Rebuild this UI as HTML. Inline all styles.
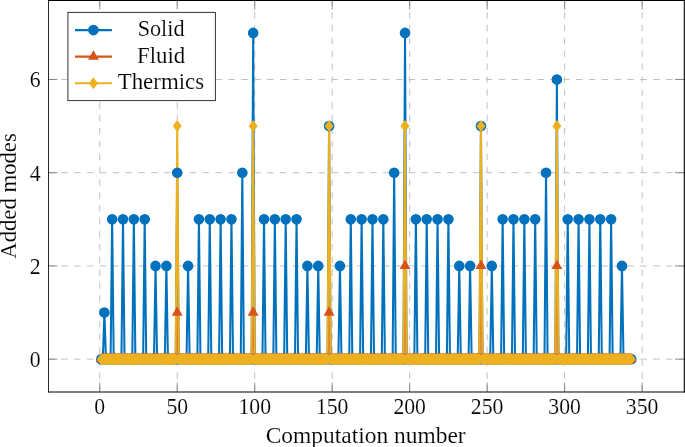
<!DOCTYPE html>
<html><head><meta charset="utf-8"><style>
html,body{margin:0;padding:0;background:#fff;}
body{width:685px;height:447px;overflow:hidden;font-family:"Liberation Serif",serif;}
svg{display:block;will-change:transform;}
</style></head><body>
<svg width="685" height="447" viewBox="0 0 685 447">
<rect width="685" height="447" fill="#fff"/>
<path d="M99.75 391.8V0.25M177.23 391.8V0.25M254.71 391.8V0.25M332.19 391.8V0.25M409.67 391.8V0.25M487.15 391.8V0.25M564.63 391.8V0.25M642.11 391.8V0.25" stroke="#c0c0c0" stroke-width="1.0" stroke-dasharray="6.43 6.44" fill="none"/>
<path d="M48.3 359.15H684.2M48.3 265.93H684.2M48.3 172.71H684.2M48.3 79.49H684.2" stroke="#c0c0c0" stroke-width="1.0" stroke-dasharray="6.43 6.44" fill="none"/>
<path d="M99.75 391.8v-9.14M99.75 0.25v9.14M177.23 391.8v-9.14M177.23 0.25v9.14M254.71 391.8v-9.14M254.71 0.25v9.14M332.19 391.8v-9.14M332.19 0.25v9.14M409.67 391.8v-9.14M409.67 0.25v9.14M487.15 391.8v-9.14M487.15 0.25v9.14M564.63 391.8v-9.14M564.63 0.25v9.14M642.11 391.8v-9.14M642.11 0.25v9.14M48.3 359.15h9.14M684.2 359.15h-9.14M48.3 265.93h9.14M684.2 265.93h-9.14M48.3 172.71h9.14M684.2 172.71h-9.14M48.3 79.49h9.14M684.2 79.49h-9.14" stroke="#7a7a7a" stroke-width="0.857" fill="none"/>
<path d="M101.3,359.15 L102.85,359.15 L104.4,312.54 L105.95,359.15 L107.5,359.15 L109.05,359.15 L110.6,359.15 L112.15,219.32 L113.7,359.15 L115.25,359.15 L116.8,359.15 L118.35,359.15 L119.89,359.15 L121.44,359.15 L122.99,219.32 L124.54,359.15 L126.09,359.15 L127.64,359.15 L129.19,359.15 L130.74,359.15 L132.29,359.15 L133.84,219.32 L135.39,359.15 L136.94,359.15 L138.49,359.15 L140.04,359.15 L141.59,359.15 L143.14,359.15 L144.69,219.32 L146.24,359.15 L147.79,359.15 L149.34,359.15 L150.89,359.15 L152.44,359.15 L153.99,359.15 L155.54,265.93 L157.09,359.15 L158.63,359.15 L160.18,359.15 L161.73,359.15 L163.28,359.15 L164.83,359.15 L166.38,265.93 L167.93,359.15 L169.48,359.15 L171.03,359.15 L172.58,359.15 L174.13,359.15 L175.68,359.15 L177.23,172.71 L178.78,359.15 L180.33,359.15 L181.88,359.15 L183.43,359.15 L184.98,359.15 L186.53,359.15 L188.08,265.93 L189.63,359.15 L191.18,359.15 L192.73,359.15 L194.28,359.15 L195.83,359.15 L197.37,359.15 L198.92,219.32 L200.47,359.15 L202.02,359.15 L203.57,359.15 L205.12,359.15 L206.67,359.15 L208.22,359.15 L209.77,219.32 L211.32,359.15 L212.87,359.15 L214.42,359.15 L215.97,359.15 L217.52,359.15 L219.07,359.15 L220.62,219.32 L222.17,359.15 L223.72,359.15 L225.27,359.15 L226.82,359.15 L228.37,359.15 L229.92,359.15 L231.47,219.32 L233.02,359.15 L234.57,359.15 L236.11,359.15 L237.66,359.15 L239.21,359.15 L240.76,359.15 L242.31,172.71 L243.86,359.15 L245.41,359.15 L246.96,359.15 L248.51,359.15 L250.06,359.15 L251.61,359.15 L253.16,32.88 L254.71,359.15 L256.26,359.15 L257.81,359.15 L259.36,359.15 L260.91,359.15 L262.46,359.15 L264.01,219.32 L265.56,359.15 L267.11,359.15 L268.66,359.15 L270.21,359.15 L271.76,359.15 L273.31,359.15 L274.85,219.32 L276.4,359.15 L277.95,359.15 L279.5,359.15 L281.05,359.15 L282.6,359.15 L284.15,359.15 L285.7,219.32 L287.25,359.15 L288.8,359.15 L290.35,359.15 L291.9,359.15 L293.45,359.15 L295,359.15 L296.55,219.32 L298.1,359.15 L299.65,359.15 L301.2,359.15 L302.75,359.15 L304.3,359.15 L305.85,359.15 L307.4,265.93 L308.95,359.15 L310.5,359.15 L312.05,359.15 L313.59,359.15 L315.14,359.15 L316.69,359.15 L318.24,265.93 L319.79,359.15 L321.34,359.15 L322.89,359.15 L324.44,359.15 L325.99,359.15 L327.54,359.15 L329.09,126.1 L330.64,359.15 L332.19,359.15 L333.74,359.15 L335.29,359.15 L336.84,359.15 L338.39,359.15 L339.94,265.93 L341.49,359.15 L343.04,359.15 L344.59,359.15 L346.14,359.15 L347.69,359.15 L349.24,359.15 L350.79,219.32 L352.33,359.15 L353.88,359.15 L355.43,359.15 L356.98,359.15 L358.53,359.15 L360.08,359.15 L361.63,219.32 L363.18,359.15 L364.73,359.15 L366.28,359.15 L367.83,359.15 L369.38,359.15 L370.93,359.15 L372.48,219.32 L374.03,359.15 L375.58,359.15 L377.13,359.15 L378.68,359.15 L380.23,359.15 L381.78,359.15 L383.33,219.32 L384.88,359.15 L386.43,359.15 L387.98,359.15 L389.53,359.15 L391.07,359.15 L392.62,359.15 L394.17,172.71 L395.72,359.15 L397.27,359.15 L398.82,359.15 L400.37,359.15 L401.92,359.15 L403.47,359.15 L405.02,32.88 L406.57,359.15 L408.12,359.15 L409.67,359.15 L411.22,359.15 L412.77,359.15 L414.32,359.15 L415.87,219.32 L417.42,359.15 L418.97,359.15 L420.52,359.15 L422.07,359.15 L423.62,359.15 L425.17,359.15 L426.72,219.32 L428.27,359.15 L429.81,359.15 L431.36,359.15 L432.91,359.15 L434.46,359.15 L436.01,359.15 L437.56,219.32 L439.11,359.15 L440.66,359.15 L442.21,359.15 L443.76,359.15 L445.31,359.15 L446.86,359.15 L448.41,219.32 L449.96,359.15 L451.51,359.15 L453.06,359.15 L454.61,359.15 L456.16,359.15 L457.71,359.15 L459.26,265.93 L460.81,359.15 L462.36,359.15 L463.91,359.15 L465.46,359.15 L467.01,359.15 L468.55,359.15 L470.1,265.93 L471.65,359.15 L473.2,359.15 L474.75,359.15 L476.3,359.15 L477.85,359.15 L479.4,359.15 L480.95,126.1 L482.5,359.15 L484.05,359.15 L485.6,359.15 L487.15,359.15 L488.7,359.15 L490.25,359.15 L491.8,265.93 L493.35,359.15 L494.9,359.15 L496.45,359.15 L498,359.15 L499.55,359.15 L501.1,359.15 L502.65,219.32 L504.2,359.15 L505.75,359.15 L507.29,359.15 L508.84,359.15 L510.39,359.15 L511.94,359.15 L513.49,219.32 L515.04,359.15 L516.59,359.15 L518.14,359.15 L519.69,359.15 L521.24,359.15 L522.79,359.15 L524.34,219.32 L525.89,359.15 L527.44,359.15 L528.99,359.15 L530.54,359.15 L532.09,359.15 L533.64,359.15 L535.19,219.32 L536.74,359.15 L538.29,359.15 L539.84,359.15 L541.39,359.15 L542.94,359.15 L544.49,359.15 L546.03,172.71 L547.58,359.15 L549.13,359.15 L550.68,359.15 L552.23,359.15 L553.78,359.15 L555.33,359.15 L556.88,79.49 L558.43,359.15 L559.98,359.15 L561.53,359.15 L563.08,359.15 L564.63,359.15 L566.18,359.15 L567.73,219.32 L569.28,359.15 L570.83,359.15 L572.38,359.15 L573.93,359.15 L575.48,359.15 L577.03,359.15 L578.58,219.32 L580.13,359.15 L581.68,359.15 L583.23,359.15 L584.77,359.15 L586.32,359.15 L587.87,359.15 L589.42,219.32 L590.97,359.15 L592.52,359.15 L594.07,359.15 L595.62,359.15 L597.17,359.15 L598.72,359.15 L600.27,219.32 L601.82,359.15 L603.37,359.15 L604.92,359.15 L606.47,359.15 L608.02,359.15 L609.57,359.15 L611.12,219.32 L612.67,359.15 L614.22,359.15 L615.77,359.15 L617.32,359.15 L618.87,359.15 L620.42,359.15 L621.97,265.93 L623.51,359.15 L625.06,359.15 L626.61,359.15 L628.16,359.15 L629.71,359.15 L631.26,359.15" stroke="#0072bd" stroke-width="2.05" fill="none" stroke-linejoin="miter" stroke-miterlimit="10"/>
<path d="M101.3,359.15 L102.85,359.15 L104.4,359.15 L105.95,359.15 L107.5,359.15 L109.05,359.15 L110.6,359.15 L112.15,359.15 L113.7,359.15 L115.25,359.15 L116.8,359.15 L118.35,359.15 L119.89,359.15 L121.44,359.15 L122.99,359.15 L124.54,359.15 L126.09,359.15 L127.64,359.15 L129.19,359.15 L130.74,359.15 L132.29,359.15 L133.84,359.15 L135.39,359.15 L136.94,359.15 L138.49,359.15 L140.04,359.15 L141.59,359.15 L143.14,359.15 L144.69,359.15 L146.24,359.15 L147.79,359.15 L149.34,359.15 L150.89,359.15 L152.44,359.15 L153.99,359.15 L155.54,359.15 L157.09,359.15 L158.63,359.15 L160.18,359.15 L161.73,359.15 L163.28,359.15 L164.83,359.15 L166.38,359.15 L167.93,359.15 L169.48,359.15 L171.03,359.15 L172.58,359.15 L174.13,359.15 L175.68,359.15 L177.23,312.54 L178.78,359.15 L180.33,359.15 L181.88,359.15 L183.43,359.15 L184.98,359.15 L186.53,359.15 L188.08,359.15 L189.63,359.15 L191.18,359.15 L192.73,359.15 L194.28,359.15 L195.83,359.15 L197.37,359.15 L198.92,359.15 L200.47,359.15 L202.02,359.15 L203.57,359.15 L205.12,359.15 L206.67,359.15 L208.22,359.15 L209.77,359.15 L211.32,359.15 L212.87,359.15 L214.42,359.15 L215.97,359.15 L217.52,359.15 L219.07,359.15 L220.62,359.15 L222.17,359.15 L223.72,359.15 L225.27,359.15 L226.82,359.15 L228.37,359.15 L229.92,359.15 L231.47,359.15 L233.02,359.15 L234.57,359.15 L236.11,359.15 L237.66,359.15 L239.21,359.15 L240.76,359.15 L242.31,359.15 L243.86,359.15 L245.41,359.15 L246.96,359.15 L248.51,359.15 L250.06,359.15 L251.61,359.15 L253.16,312.54 L254.71,359.15 L256.26,359.15 L257.81,359.15 L259.36,359.15 L260.91,359.15 L262.46,359.15 L264.01,359.15 L265.56,359.15 L267.11,359.15 L268.66,359.15 L270.21,359.15 L271.76,359.15 L273.31,359.15 L274.85,359.15 L276.4,359.15 L277.95,359.15 L279.5,359.15 L281.05,359.15 L282.6,359.15 L284.15,359.15 L285.7,359.15 L287.25,359.15 L288.8,359.15 L290.35,359.15 L291.9,359.15 L293.45,359.15 L295,359.15 L296.55,359.15 L298.1,359.15 L299.65,359.15 L301.2,359.15 L302.75,359.15 L304.3,359.15 L305.85,359.15 L307.4,359.15 L308.95,359.15 L310.5,359.15 L312.05,359.15 L313.59,359.15 L315.14,359.15 L316.69,359.15 L318.24,359.15 L319.79,359.15 L321.34,359.15 L322.89,359.15 L324.44,359.15 L325.99,359.15 L327.54,359.15 L329.09,312.54 L330.64,359.15 L332.19,359.15 L333.74,359.15 L335.29,359.15 L336.84,359.15 L338.39,359.15 L339.94,359.15 L341.49,359.15 L343.04,359.15 L344.59,359.15 L346.14,359.15 L347.69,359.15 L349.24,359.15 L350.79,359.15 L352.33,359.15 L353.88,359.15 L355.43,359.15 L356.98,359.15 L358.53,359.15 L360.08,359.15 L361.63,359.15 L363.18,359.15 L364.73,359.15 L366.28,359.15 L367.83,359.15 L369.38,359.15 L370.93,359.15 L372.48,359.15 L374.03,359.15 L375.58,359.15 L377.13,359.15 L378.68,359.15 L380.23,359.15 L381.78,359.15 L383.33,359.15 L384.88,359.15 L386.43,359.15 L387.98,359.15 L389.53,359.15 L391.07,359.15 L392.62,359.15 L394.17,359.15 L395.72,359.15 L397.27,359.15 L398.82,359.15 L400.37,359.15 L401.92,359.15 L403.47,359.15 L405.02,265.93 L406.57,359.15 L408.12,359.15 L409.67,359.15 L411.22,359.15 L412.77,359.15 L414.32,359.15 L415.87,359.15 L417.42,359.15 L418.97,359.15 L420.52,359.15 L422.07,359.15 L423.62,359.15 L425.17,359.15 L426.72,359.15 L428.27,359.15 L429.81,359.15 L431.36,359.15 L432.91,359.15 L434.46,359.15 L436.01,359.15 L437.56,359.15 L439.11,359.15 L440.66,359.15 L442.21,359.15 L443.76,359.15 L445.31,359.15 L446.86,359.15 L448.41,359.15 L449.96,359.15 L451.51,359.15 L453.06,359.15 L454.61,359.15 L456.16,359.15 L457.71,359.15 L459.26,359.15 L460.81,359.15 L462.36,359.15 L463.91,359.15 L465.46,359.15 L467.01,359.15 L468.55,359.15 L470.1,359.15 L471.65,359.15 L473.2,359.15 L474.75,359.15 L476.3,359.15 L477.85,359.15 L479.4,359.15 L480.95,265.93 L482.5,359.15 L484.05,359.15 L485.6,359.15 L487.15,359.15 L488.7,359.15 L490.25,359.15 L491.8,359.15 L493.35,359.15 L494.9,359.15 L496.45,359.15 L498,359.15 L499.55,359.15 L501.1,359.15 L502.65,359.15 L504.2,359.15 L505.75,359.15 L507.29,359.15 L508.84,359.15 L510.39,359.15 L511.94,359.15 L513.49,359.15 L515.04,359.15 L516.59,359.15 L518.14,359.15 L519.69,359.15 L521.24,359.15 L522.79,359.15 L524.34,359.15 L525.89,359.15 L527.44,359.15 L528.99,359.15 L530.54,359.15 L532.09,359.15 L533.64,359.15 L535.19,359.15 L536.74,359.15 L538.29,359.15 L539.84,359.15 L541.39,359.15 L542.94,359.15 L544.49,359.15 L546.03,359.15 L547.58,359.15 L549.13,359.15 L550.68,359.15 L552.23,359.15 L553.78,359.15 L555.33,359.15 L556.88,265.93 L558.43,359.15 L559.98,359.15 L561.53,359.15 L563.08,359.15 L564.63,359.15 L566.18,359.15 L567.73,359.15 L569.28,359.15 L570.83,359.15 L572.38,359.15 L573.93,359.15 L575.48,359.15 L577.03,359.15 L578.58,359.15 L580.13,359.15 L581.68,359.15 L583.23,359.15 L584.77,359.15 L586.32,359.15 L587.87,359.15 L589.42,359.15 L590.97,359.15 L592.52,359.15 L594.07,359.15 L595.62,359.15 L597.17,359.15 L598.72,359.15 L600.27,359.15 L601.82,359.15 L603.37,359.15 L604.92,359.15 L606.47,359.15 L608.02,359.15 L609.57,359.15 L611.12,359.15 L612.67,359.15 L614.22,359.15 L615.77,359.15 L617.32,359.15 L618.87,359.15 L620.42,359.15 L621.97,359.15 L623.51,359.15 L625.06,359.15 L626.61,359.15 L628.16,359.15 L629.71,359.15 L631.26,359.15" stroke="#d95319" stroke-width="2.05" fill="none" stroke-linejoin="miter" stroke-miterlimit="10"/>
<path d="M101.3,359.15 L102.85,359.15 L104.4,359.15 L105.95,359.15 L107.5,359.15 L109.05,359.15 L110.6,359.15 L112.15,359.15 L113.7,359.15 L115.25,359.15 L116.8,359.15 L118.35,359.15 L119.89,359.15 L121.44,359.15 L122.99,359.15 L124.54,359.15 L126.09,359.15 L127.64,359.15 L129.19,359.15 L130.74,359.15 L132.29,359.15 L133.84,359.15 L135.39,359.15 L136.94,359.15 L138.49,359.15 L140.04,359.15 L141.59,359.15 L143.14,359.15 L144.69,359.15 L146.24,359.15 L147.79,359.15 L149.34,359.15 L150.89,359.15 L152.44,359.15 L153.99,359.15 L155.54,359.15 L157.09,359.15 L158.63,359.15 L160.18,359.15 L161.73,359.15 L163.28,359.15 L164.83,359.15 L166.38,359.15 L167.93,359.15 L169.48,359.15 L171.03,359.15 L172.58,359.15 L174.13,359.15 L175.68,359.15 L177.23,126.1 L178.78,359.15 L180.33,359.15 L181.88,359.15 L183.43,359.15 L184.98,359.15 L186.53,359.15 L188.08,359.15 L189.63,359.15 L191.18,359.15 L192.73,359.15 L194.28,359.15 L195.83,359.15 L197.37,359.15 L198.92,359.15 L200.47,359.15 L202.02,359.15 L203.57,359.15 L205.12,359.15 L206.67,359.15 L208.22,359.15 L209.77,359.15 L211.32,359.15 L212.87,359.15 L214.42,359.15 L215.97,359.15 L217.52,359.15 L219.07,359.15 L220.62,359.15 L222.17,359.15 L223.72,359.15 L225.27,359.15 L226.82,359.15 L228.37,359.15 L229.92,359.15 L231.47,359.15 L233.02,359.15 L234.57,359.15 L236.11,359.15 L237.66,359.15 L239.21,359.15 L240.76,359.15 L242.31,359.15 L243.86,359.15 L245.41,359.15 L246.96,359.15 L248.51,359.15 L250.06,359.15 L251.61,359.15 L253.16,126.1 L254.71,359.15 L256.26,359.15 L257.81,359.15 L259.36,359.15 L260.91,359.15 L262.46,359.15 L264.01,359.15 L265.56,359.15 L267.11,359.15 L268.66,359.15 L270.21,359.15 L271.76,359.15 L273.31,359.15 L274.85,359.15 L276.4,359.15 L277.95,359.15 L279.5,359.15 L281.05,359.15 L282.6,359.15 L284.15,359.15 L285.7,359.15 L287.25,359.15 L288.8,359.15 L290.35,359.15 L291.9,359.15 L293.45,359.15 L295,359.15 L296.55,359.15 L298.1,359.15 L299.65,359.15 L301.2,359.15 L302.75,359.15 L304.3,359.15 L305.85,359.15 L307.4,359.15 L308.95,359.15 L310.5,359.15 L312.05,359.15 L313.59,359.15 L315.14,359.15 L316.69,359.15 L318.24,359.15 L319.79,359.15 L321.34,359.15 L322.89,359.15 L324.44,359.15 L325.99,359.15 L327.54,359.15 L329.09,126.1 L330.64,359.15 L332.19,359.15 L333.74,359.15 L335.29,359.15 L336.84,359.15 L338.39,359.15 L339.94,359.15 L341.49,359.15 L343.04,359.15 L344.59,359.15 L346.14,359.15 L347.69,359.15 L349.24,359.15 L350.79,359.15 L352.33,359.15 L353.88,359.15 L355.43,359.15 L356.98,359.15 L358.53,359.15 L360.08,359.15 L361.63,359.15 L363.18,359.15 L364.73,359.15 L366.28,359.15 L367.83,359.15 L369.38,359.15 L370.93,359.15 L372.48,359.15 L374.03,359.15 L375.58,359.15 L377.13,359.15 L378.68,359.15 L380.23,359.15 L381.78,359.15 L383.33,359.15 L384.88,359.15 L386.43,359.15 L387.98,359.15 L389.53,359.15 L391.07,359.15 L392.62,359.15 L394.17,359.15 L395.72,359.15 L397.27,359.15 L398.82,359.15 L400.37,359.15 L401.92,359.15 L403.47,359.15 L405.02,126.1 L406.57,359.15 L408.12,359.15 L409.67,359.15 L411.22,359.15 L412.77,359.15 L414.32,359.15 L415.87,359.15 L417.42,359.15 L418.97,359.15 L420.52,359.15 L422.07,359.15 L423.62,359.15 L425.17,359.15 L426.72,359.15 L428.27,359.15 L429.81,359.15 L431.36,359.15 L432.91,359.15 L434.46,359.15 L436.01,359.15 L437.56,359.15 L439.11,359.15 L440.66,359.15 L442.21,359.15 L443.76,359.15 L445.31,359.15 L446.86,359.15 L448.41,359.15 L449.96,359.15 L451.51,359.15 L453.06,359.15 L454.61,359.15 L456.16,359.15 L457.71,359.15 L459.26,359.15 L460.81,359.15 L462.36,359.15 L463.91,359.15 L465.46,359.15 L467.01,359.15 L468.55,359.15 L470.1,359.15 L471.65,359.15 L473.2,359.15 L474.75,359.15 L476.3,359.15 L477.85,359.15 L479.4,359.15 L480.95,126.1 L482.5,359.15 L484.05,359.15 L485.6,359.15 L487.15,359.15 L488.7,359.15 L490.25,359.15 L491.8,359.15 L493.35,359.15 L494.9,359.15 L496.45,359.15 L498,359.15 L499.55,359.15 L501.1,359.15 L502.65,359.15 L504.2,359.15 L505.75,359.15 L507.29,359.15 L508.84,359.15 L510.39,359.15 L511.94,359.15 L513.49,359.15 L515.04,359.15 L516.59,359.15 L518.14,359.15 L519.69,359.15 L521.24,359.15 L522.79,359.15 L524.34,359.15 L525.89,359.15 L527.44,359.15 L528.99,359.15 L530.54,359.15 L532.09,359.15 L533.64,359.15 L535.19,359.15 L536.74,359.15 L538.29,359.15 L539.84,359.15 L541.39,359.15 L542.94,359.15 L544.49,359.15 L546.03,359.15 L547.58,359.15 L549.13,359.15 L550.68,359.15 L552.23,359.15 L553.78,359.15 L555.33,359.15 L556.88,126.1 L558.43,359.15 L559.98,359.15 L561.53,359.15 L563.08,359.15 L564.63,359.15 L566.18,359.15 L567.73,359.15 L569.28,359.15 L570.83,359.15 L572.38,359.15 L573.93,359.15 L575.48,359.15 L577.03,359.15 L578.58,359.15 L580.13,359.15 L581.68,359.15 L583.23,359.15 L584.77,359.15 L586.32,359.15 L587.87,359.15 L589.42,359.15 L590.97,359.15 L592.52,359.15 L594.07,359.15 L595.62,359.15 L597.17,359.15 L598.72,359.15 L600.27,359.15 L601.82,359.15 L603.37,359.15 L604.92,359.15 L606.47,359.15 L608.02,359.15 L609.57,359.15 L611.12,359.15 L612.67,359.15 L614.22,359.15 L615.77,359.15 L617.32,359.15 L618.87,359.15 L620.42,359.15 L621.97,359.15 L623.51,359.15 L625.06,359.15 L626.61,359.15 L628.16,359.15 L629.71,359.15 L631.26,359.15" stroke="#edb120" stroke-width="2.05" fill="none" stroke-linejoin="miter" stroke-miterlimit="10"/>
<path d="M95.99 359.15a5.31 5.31 0 1 0 10.62 0a5.31 5.31 0 1 0 -10.62 0M97.54 359.15a5.31 5.31 0 1 0 10.62 0a5.31 5.31 0 1 0 -10.62 0M99.09 312.54a5.31 5.31 0 1 0 10.62 0a5.31 5.31 0 1 0 -10.62 0M100.64 359.15a5.31 5.31 0 1 0 10.62 0a5.31 5.31 0 1 0 -10.62 0M102.19 359.15a5.31 5.31 0 1 0 10.62 0a5.31 5.31 0 1 0 -10.62 0M103.74 359.15a5.31 5.31 0 1 0 10.62 0a5.31 5.31 0 1 0 -10.62 0M105.29 359.15a5.31 5.31 0 1 0 10.62 0a5.31 5.31 0 1 0 -10.62 0M106.84 219.32a5.31 5.31 0 1 0 10.62 0a5.31 5.31 0 1 0 -10.62 0M108.39 359.15a5.31 5.31 0 1 0 10.62 0a5.31 5.31 0 1 0 -10.62 0M109.94 359.15a5.31 5.31 0 1 0 10.62 0a5.31 5.31 0 1 0 -10.62 0M111.49 359.15a5.31 5.31 0 1 0 10.62 0a5.31 5.31 0 1 0 -10.62 0M113.04 359.15a5.31 5.31 0 1 0 10.62 0a5.31 5.31 0 1 0 -10.62 0M114.58 359.15a5.31 5.31 0 1 0 10.62 0a5.31 5.31 0 1 0 -10.62 0M116.13 359.15a5.31 5.31 0 1 0 10.62 0a5.31 5.31 0 1 0 -10.62 0M117.68 219.32a5.31 5.31 0 1 0 10.62 0a5.31 5.31 0 1 0 -10.62 0M119.23 359.15a5.31 5.31 0 1 0 10.62 0a5.31 5.31 0 1 0 -10.62 0M120.78 359.15a5.31 5.31 0 1 0 10.62 0a5.31 5.31 0 1 0 -10.62 0M122.33 359.15a5.31 5.31 0 1 0 10.62 0a5.31 5.31 0 1 0 -10.62 0M123.88 359.15a5.31 5.31 0 1 0 10.62 0a5.31 5.31 0 1 0 -10.62 0M125.43 359.15a5.31 5.31 0 1 0 10.62 0a5.31 5.31 0 1 0 -10.62 0M126.98 359.15a5.31 5.31 0 1 0 10.62 0a5.31 5.31 0 1 0 -10.62 0M128.53 219.32a5.31 5.31 0 1 0 10.62 0a5.31 5.31 0 1 0 -10.62 0M130.08 359.15a5.31 5.31 0 1 0 10.62 0a5.31 5.31 0 1 0 -10.62 0M131.63 359.15a5.31 5.31 0 1 0 10.62 0a5.31 5.31 0 1 0 -10.62 0M133.18 359.15a5.31 5.31 0 1 0 10.62 0a5.31 5.31 0 1 0 -10.62 0M134.73 359.15a5.31 5.31 0 1 0 10.62 0a5.31 5.31 0 1 0 -10.62 0M136.28 359.15a5.31 5.31 0 1 0 10.62 0a5.31 5.31 0 1 0 -10.62 0M137.83 359.15a5.31 5.31 0 1 0 10.62 0a5.31 5.31 0 1 0 -10.62 0M139.38 219.32a5.31 5.31 0 1 0 10.62 0a5.31 5.31 0 1 0 -10.62 0M140.93 359.15a5.31 5.31 0 1 0 10.62 0a5.31 5.31 0 1 0 -10.62 0M142.48 359.15a5.31 5.31 0 1 0 10.62 0a5.31 5.31 0 1 0 -10.62 0M144.03 359.15a5.31 5.31 0 1 0 10.62 0a5.31 5.31 0 1 0 -10.62 0M145.58 359.15a5.31 5.31 0 1 0 10.62 0a5.31 5.31 0 1 0 -10.62 0M147.13 359.15a5.31 5.31 0 1 0 10.62 0a5.31 5.31 0 1 0 -10.62 0M148.68 359.15a5.31 5.31 0 1 0 10.62 0a5.31 5.31 0 1 0 -10.62 0M150.23 265.93a5.31 5.31 0 1 0 10.62 0a5.31 5.31 0 1 0 -10.62 0M151.78 359.15a5.31 5.31 0 1 0 10.62 0a5.31 5.31 0 1 0 -10.62 0M153.32 359.15a5.31 5.31 0 1 0 10.62 0a5.31 5.31 0 1 0 -10.62 0M154.87 359.15a5.31 5.31 0 1 0 10.62 0a5.31 5.31 0 1 0 -10.62 0M156.42 359.15a5.31 5.31 0 1 0 10.62 0a5.31 5.31 0 1 0 -10.62 0M157.97 359.15a5.31 5.31 0 1 0 10.62 0a5.31 5.31 0 1 0 -10.62 0M159.52 359.15a5.31 5.31 0 1 0 10.62 0a5.31 5.31 0 1 0 -10.62 0M161.07 265.93a5.31 5.31 0 1 0 10.62 0a5.31 5.31 0 1 0 -10.62 0M162.62 359.15a5.31 5.31 0 1 0 10.62 0a5.31 5.31 0 1 0 -10.62 0M164.17 359.15a5.31 5.31 0 1 0 10.62 0a5.31 5.31 0 1 0 -10.62 0M165.72 359.15a5.31 5.31 0 1 0 10.62 0a5.31 5.31 0 1 0 -10.62 0M167.27 359.15a5.31 5.31 0 1 0 10.62 0a5.31 5.31 0 1 0 -10.62 0M168.82 359.15a5.31 5.31 0 1 0 10.62 0a5.31 5.31 0 1 0 -10.62 0M170.37 359.15a5.31 5.31 0 1 0 10.62 0a5.31 5.31 0 1 0 -10.62 0M171.92 172.71a5.31 5.31 0 1 0 10.62 0a5.31 5.31 0 1 0 -10.62 0M173.47 359.15a5.31 5.31 0 1 0 10.62 0a5.31 5.31 0 1 0 -10.62 0M175.02 359.15a5.31 5.31 0 1 0 10.62 0a5.31 5.31 0 1 0 -10.62 0M176.57 359.15a5.31 5.31 0 1 0 10.62 0a5.31 5.31 0 1 0 -10.62 0M178.12 359.15a5.31 5.31 0 1 0 10.62 0a5.31 5.31 0 1 0 -10.62 0M179.67 359.15a5.31 5.31 0 1 0 10.62 0a5.31 5.31 0 1 0 -10.62 0M181.22 359.15a5.31 5.31 0 1 0 10.62 0a5.31 5.31 0 1 0 -10.62 0M182.77 265.93a5.31 5.31 0 1 0 10.62 0a5.31 5.31 0 1 0 -10.62 0M184.32 359.15a5.31 5.31 0 1 0 10.62 0a5.31 5.31 0 1 0 -10.62 0M185.87 359.15a5.31 5.31 0 1 0 10.62 0a5.31 5.31 0 1 0 -10.62 0M187.42 359.15a5.31 5.31 0 1 0 10.62 0a5.31 5.31 0 1 0 -10.62 0M188.97 359.15a5.31 5.31 0 1 0 10.62 0a5.31 5.31 0 1 0 -10.62 0M190.52 359.15a5.31 5.31 0 1 0 10.62 0a5.31 5.31 0 1 0 -10.62 0M192.06 359.15a5.31 5.31 0 1 0 10.62 0a5.31 5.31 0 1 0 -10.62 0M193.61 219.32a5.31 5.31 0 1 0 10.62 0a5.31 5.31 0 1 0 -10.62 0M195.16 359.15a5.31 5.31 0 1 0 10.62 0a5.31 5.31 0 1 0 -10.62 0M196.71 359.15a5.31 5.31 0 1 0 10.62 0a5.31 5.31 0 1 0 -10.62 0M198.26 359.15a5.31 5.31 0 1 0 10.62 0a5.31 5.31 0 1 0 -10.62 0M199.81 359.15a5.31 5.31 0 1 0 10.62 0a5.31 5.31 0 1 0 -10.62 0M201.36 359.15a5.31 5.31 0 1 0 10.62 0a5.31 5.31 0 1 0 -10.62 0M202.91 359.15a5.31 5.31 0 1 0 10.62 0a5.31 5.31 0 1 0 -10.62 0M204.46 219.32a5.31 5.31 0 1 0 10.62 0a5.31 5.31 0 1 0 -10.62 0M206.01 359.15a5.31 5.31 0 1 0 10.62 0a5.31 5.31 0 1 0 -10.62 0M207.56 359.15a5.31 5.31 0 1 0 10.62 0a5.31 5.31 0 1 0 -10.62 0M209.11 359.15a5.31 5.31 0 1 0 10.62 0a5.31 5.31 0 1 0 -10.62 0M210.66 359.15a5.31 5.31 0 1 0 10.62 0a5.31 5.31 0 1 0 -10.62 0M212.21 359.15a5.31 5.31 0 1 0 10.62 0a5.31 5.31 0 1 0 -10.62 0M213.76 359.15a5.31 5.31 0 1 0 10.62 0a5.31 5.31 0 1 0 -10.62 0M215.31 219.32a5.31 5.31 0 1 0 10.62 0a5.31 5.31 0 1 0 -10.62 0M216.86 359.15a5.31 5.31 0 1 0 10.62 0a5.31 5.31 0 1 0 -10.62 0M218.41 359.15a5.31 5.31 0 1 0 10.62 0a5.31 5.31 0 1 0 -10.62 0M219.96 359.15a5.31 5.31 0 1 0 10.62 0a5.31 5.31 0 1 0 -10.62 0M221.51 359.15a5.31 5.31 0 1 0 10.62 0a5.31 5.31 0 1 0 -10.62 0M223.06 359.15a5.31 5.31 0 1 0 10.62 0a5.31 5.31 0 1 0 -10.62 0M224.61 359.15a5.31 5.31 0 1 0 10.62 0a5.31 5.31 0 1 0 -10.62 0M226.16 219.32a5.31 5.31 0 1 0 10.62 0a5.31 5.31 0 1 0 -10.62 0M227.71 359.15a5.31 5.31 0 1 0 10.62 0a5.31 5.31 0 1 0 -10.62 0M229.26 359.15a5.31 5.31 0 1 0 10.62 0a5.31 5.31 0 1 0 -10.62 0M230.8 359.15a5.31 5.31 0 1 0 10.62 0a5.31 5.31 0 1 0 -10.62 0M232.35 359.15a5.31 5.31 0 1 0 10.62 0a5.31 5.31 0 1 0 -10.62 0M233.9 359.15a5.31 5.31 0 1 0 10.62 0a5.31 5.31 0 1 0 -10.62 0M235.45 359.15a5.31 5.31 0 1 0 10.62 0a5.31 5.31 0 1 0 -10.62 0M237 172.71a5.31 5.31 0 1 0 10.62 0a5.31 5.31 0 1 0 -10.62 0M238.55 359.15a5.31 5.31 0 1 0 10.62 0a5.31 5.31 0 1 0 -10.62 0M240.1 359.15a5.31 5.31 0 1 0 10.62 0a5.31 5.31 0 1 0 -10.62 0M241.65 359.15a5.31 5.31 0 1 0 10.62 0a5.31 5.31 0 1 0 -10.62 0M243.2 359.15a5.31 5.31 0 1 0 10.62 0a5.31 5.31 0 1 0 -10.62 0M244.75 359.15a5.31 5.31 0 1 0 10.62 0a5.31 5.31 0 1 0 -10.62 0M246.3 359.15a5.31 5.31 0 1 0 10.62 0a5.31 5.31 0 1 0 -10.62 0M247.85 32.88a5.31 5.31 0 1 0 10.62 0a5.31 5.31 0 1 0 -10.62 0M249.4 359.15a5.31 5.31 0 1 0 10.62 0a5.31 5.31 0 1 0 -10.62 0M250.95 359.15a5.31 5.31 0 1 0 10.62 0a5.31 5.31 0 1 0 -10.62 0M252.5 359.15a5.31 5.31 0 1 0 10.62 0a5.31 5.31 0 1 0 -10.62 0M254.05 359.15a5.31 5.31 0 1 0 10.62 0a5.31 5.31 0 1 0 -10.62 0M255.6 359.15a5.31 5.31 0 1 0 10.62 0a5.31 5.31 0 1 0 -10.62 0M257.15 359.15a5.31 5.31 0 1 0 10.62 0a5.31 5.31 0 1 0 -10.62 0M258.7 219.32a5.31 5.31 0 1 0 10.62 0a5.31 5.31 0 1 0 -10.62 0M260.25 359.15a5.31 5.31 0 1 0 10.62 0a5.31 5.31 0 1 0 -10.62 0M261.8 359.15a5.31 5.31 0 1 0 10.62 0a5.31 5.31 0 1 0 -10.62 0M263.35 359.15a5.31 5.31 0 1 0 10.62 0a5.31 5.31 0 1 0 -10.62 0M264.9 359.15a5.31 5.31 0 1 0 10.62 0a5.31 5.31 0 1 0 -10.62 0M266.45 359.15a5.31 5.31 0 1 0 10.62 0a5.31 5.31 0 1 0 -10.62 0M268 359.15a5.31 5.31 0 1 0 10.62 0a5.31 5.31 0 1 0 -10.62 0M269.54 219.32a5.31 5.31 0 1 0 10.62 0a5.31 5.31 0 1 0 -10.62 0M271.09 359.15a5.31 5.31 0 1 0 10.62 0a5.31 5.31 0 1 0 -10.62 0M272.64 359.15a5.31 5.31 0 1 0 10.62 0a5.31 5.31 0 1 0 -10.62 0M274.19 359.15a5.31 5.31 0 1 0 10.62 0a5.31 5.31 0 1 0 -10.62 0M275.74 359.15a5.31 5.31 0 1 0 10.62 0a5.31 5.31 0 1 0 -10.62 0M277.29 359.15a5.31 5.31 0 1 0 10.62 0a5.31 5.31 0 1 0 -10.62 0M278.84 359.15a5.31 5.31 0 1 0 10.62 0a5.31 5.31 0 1 0 -10.62 0M280.39 219.32a5.31 5.31 0 1 0 10.62 0a5.31 5.31 0 1 0 -10.62 0M281.94 359.15a5.31 5.31 0 1 0 10.62 0a5.31 5.31 0 1 0 -10.62 0M283.49 359.15a5.31 5.31 0 1 0 10.62 0a5.31 5.31 0 1 0 -10.62 0M285.04 359.15a5.31 5.31 0 1 0 10.62 0a5.31 5.31 0 1 0 -10.62 0M286.59 359.15a5.31 5.31 0 1 0 10.62 0a5.31 5.31 0 1 0 -10.62 0M288.14 359.15a5.31 5.31 0 1 0 10.62 0a5.31 5.31 0 1 0 -10.62 0M289.69 359.15a5.31 5.31 0 1 0 10.62 0a5.31 5.31 0 1 0 -10.62 0M291.24 219.32a5.31 5.31 0 1 0 10.62 0a5.31 5.31 0 1 0 -10.62 0M292.79 359.15a5.31 5.31 0 1 0 10.62 0a5.31 5.31 0 1 0 -10.62 0M294.34 359.15a5.31 5.31 0 1 0 10.62 0a5.31 5.31 0 1 0 -10.62 0M295.89 359.15a5.31 5.31 0 1 0 10.62 0a5.31 5.31 0 1 0 -10.62 0M297.44 359.15a5.31 5.31 0 1 0 10.62 0a5.31 5.31 0 1 0 -10.62 0M298.99 359.15a5.31 5.31 0 1 0 10.62 0a5.31 5.31 0 1 0 -10.62 0M300.54 359.15a5.31 5.31 0 1 0 10.62 0a5.31 5.31 0 1 0 -10.62 0M302.09 265.93a5.31 5.31 0 1 0 10.62 0a5.31 5.31 0 1 0 -10.62 0M303.64 359.15a5.31 5.31 0 1 0 10.62 0a5.31 5.31 0 1 0 -10.62 0M305.19 359.15a5.31 5.31 0 1 0 10.62 0a5.31 5.31 0 1 0 -10.62 0M306.74 359.15a5.31 5.31 0 1 0 10.62 0a5.31 5.31 0 1 0 -10.62 0M308.28 359.15a5.31 5.31 0 1 0 10.62 0a5.31 5.31 0 1 0 -10.62 0M309.83 359.15a5.31 5.31 0 1 0 10.62 0a5.31 5.31 0 1 0 -10.62 0M311.38 359.15a5.31 5.31 0 1 0 10.62 0a5.31 5.31 0 1 0 -10.62 0M312.93 265.93a5.31 5.31 0 1 0 10.62 0a5.31 5.31 0 1 0 -10.62 0M314.48 359.15a5.31 5.31 0 1 0 10.62 0a5.31 5.31 0 1 0 -10.62 0M316.03 359.15a5.31 5.31 0 1 0 10.62 0a5.31 5.31 0 1 0 -10.62 0M317.58 359.15a5.31 5.31 0 1 0 10.62 0a5.31 5.31 0 1 0 -10.62 0M319.13 359.15a5.31 5.31 0 1 0 10.62 0a5.31 5.31 0 1 0 -10.62 0M320.68 359.15a5.31 5.31 0 1 0 10.62 0a5.31 5.31 0 1 0 -10.62 0M322.23 359.15a5.31 5.31 0 1 0 10.62 0a5.31 5.31 0 1 0 -10.62 0M323.78 126.1a5.31 5.31 0 1 0 10.62 0a5.31 5.31 0 1 0 -10.62 0M325.33 359.15a5.31 5.31 0 1 0 10.62 0a5.31 5.31 0 1 0 -10.62 0M326.88 359.15a5.31 5.31 0 1 0 10.62 0a5.31 5.31 0 1 0 -10.62 0M328.43 359.15a5.31 5.31 0 1 0 10.62 0a5.31 5.31 0 1 0 -10.62 0M329.98 359.15a5.31 5.31 0 1 0 10.62 0a5.31 5.31 0 1 0 -10.62 0M331.53 359.15a5.31 5.31 0 1 0 10.62 0a5.31 5.31 0 1 0 -10.62 0M333.08 359.15a5.31 5.31 0 1 0 10.62 0a5.31 5.31 0 1 0 -10.62 0M334.63 265.93a5.31 5.31 0 1 0 10.62 0a5.31 5.31 0 1 0 -10.62 0M336.18 359.15a5.31 5.31 0 1 0 10.62 0a5.31 5.31 0 1 0 -10.62 0M337.73 359.15a5.31 5.31 0 1 0 10.62 0a5.31 5.31 0 1 0 -10.62 0M339.28 359.15a5.31 5.31 0 1 0 10.62 0a5.31 5.31 0 1 0 -10.62 0M340.83 359.15a5.31 5.31 0 1 0 10.62 0a5.31 5.31 0 1 0 -10.62 0M342.38 359.15a5.31 5.31 0 1 0 10.62 0a5.31 5.31 0 1 0 -10.62 0M343.93 359.15a5.31 5.31 0 1 0 10.62 0a5.31 5.31 0 1 0 -10.62 0M345.48 219.32a5.31 5.31 0 1 0 10.62 0a5.31 5.31 0 1 0 -10.62 0M347.02 359.15a5.31 5.31 0 1 0 10.62 0a5.31 5.31 0 1 0 -10.62 0M348.57 359.15a5.31 5.31 0 1 0 10.62 0a5.31 5.31 0 1 0 -10.62 0M350.12 359.15a5.31 5.31 0 1 0 10.62 0a5.31 5.31 0 1 0 -10.62 0M351.67 359.15a5.31 5.31 0 1 0 10.62 0a5.31 5.31 0 1 0 -10.62 0M353.22 359.15a5.31 5.31 0 1 0 10.62 0a5.31 5.31 0 1 0 -10.62 0M354.77 359.15a5.31 5.31 0 1 0 10.62 0a5.31 5.31 0 1 0 -10.62 0M356.32 219.32a5.31 5.31 0 1 0 10.62 0a5.31 5.31 0 1 0 -10.62 0M357.87 359.15a5.31 5.31 0 1 0 10.62 0a5.31 5.31 0 1 0 -10.62 0M359.42 359.15a5.31 5.31 0 1 0 10.62 0a5.31 5.31 0 1 0 -10.62 0M360.97 359.15a5.31 5.31 0 1 0 10.62 0a5.31 5.31 0 1 0 -10.62 0M362.52 359.15a5.31 5.31 0 1 0 10.62 0a5.31 5.31 0 1 0 -10.62 0M364.07 359.15a5.31 5.31 0 1 0 10.62 0a5.31 5.31 0 1 0 -10.62 0M365.62 359.15a5.31 5.31 0 1 0 10.62 0a5.31 5.31 0 1 0 -10.62 0M367.17 219.32a5.31 5.31 0 1 0 10.62 0a5.31 5.31 0 1 0 -10.62 0M368.72 359.15a5.31 5.31 0 1 0 10.62 0a5.31 5.31 0 1 0 -10.62 0M370.27 359.15a5.31 5.31 0 1 0 10.62 0a5.31 5.31 0 1 0 -10.62 0M371.82 359.15a5.31 5.31 0 1 0 10.62 0a5.31 5.31 0 1 0 -10.62 0M373.37 359.15a5.31 5.31 0 1 0 10.62 0a5.31 5.31 0 1 0 -10.62 0M374.92 359.15a5.31 5.31 0 1 0 10.62 0a5.31 5.31 0 1 0 -10.62 0M376.47 359.15a5.31 5.31 0 1 0 10.62 0a5.31 5.31 0 1 0 -10.62 0M378.02 219.32a5.31 5.31 0 1 0 10.62 0a5.31 5.31 0 1 0 -10.62 0M379.57 359.15a5.31 5.31 0 1 0 10.62 0a5.31 5.31 0 1 0 -10.62 0M381.12 359.15a5.31 5.31 0 1 0 10.62 0a5.31 5.31 0 1 0 -10.62 0M382.67 359.15a5.31 5.31 0 1 0 10.62 0a5.31 5.31 0 1 0 -10.62 0M384.22 359.15a5.31 5.31 0 1 0 10.62 0a5.31 5.31 0 1 0 -10.62 0M385.76 359.15a5.31 5.31 0 1 0 10.62 0a5.31 5.31 0 1 0 -10.62 0M387.31 359.15a5.31 5.31 0 1 0 10.62 0a5.31 5.31 0 1 0 -10.62 0M388.86 172.71a5.31 5.31 0 1 0 10.62 0a5.31 5.31 0 1 0 -10.62 0M390.41 359.15a5.31 5.31 0 1 0 10.62 0a5.31 5.31 0 1 0 -10.62 0M391.96 359.15a5.31 5.31 0 1 0 10.62 0a5.31 5.31 0 1 0 -10.62 0M393.51 359.15a5.31 5.31 0 1 0 10.62 0a5.31 5.31 0 1 0 -10.62 0M395.06 359.15a5.31 5.31 0 1 0 10.62 0a5.31 5.31 0 1 0 -10.62 0M396.61 359.15a5.31 5.31 0 1 0 10.62 0a5.31 5.31 0 1 0 -10.62 0M398.16 359.15a5.31 5.31 0 1 0 10.62 0a5.31 5.31 0 1 0 -10.62 0M399.71 32.88a5.31 5.31 0 1 0 10.62 0a5.31 5.31 0 1 0 -10.62 0M401.26 359.15a5.31 5.31 0 1 0 10.62 0a5.31 5.31 0 1 0 -10.62 0M402.81 359.15a5.31 5.31 0 1 0 10.62 0a5.31 5.31 0 1 0 -10.62 0M404.36 359.15a5.31 5.31 0 1 0 10.62 0a5.31 5.31 0 1 0 -10.62 0M405.91 359.15a5.31 5.31 0 1 0 10.62 0a5.31 5.31 0 1 0 -10.62 0M407.46 359.15a5.31 5.31 0 1 0 10.62 0a5.31 5.31 0 1 0 -10.62 0M409.01 359.15a5.31 5.31 0 1 0 10.62 0a5.31 5.31 0 1 0 -10.62 0M410.56 219.32a5.31 5.31 0 1 0 10.62 0a5.31 5.31 0 1 0 -10.62 0M412.11 359.15a5.31 5.31 0 1 0 10.62 0a5.31 5.31 0 1 0 -10.62 0M413.66 359.15a5.31 5.31 0 1 0 10.62 0a5.31 5.31 0 1 0 -10.62 0M415.21 359.15a5.31 5.31 0 1 0 10.62 0a5.31 5.31 0 1 0 -10.62 0M416.76 359.15a5.31 5.31 0 1 0 10.62 0a5.31 5.31 0 1 0 -10.62 0M418.31 359.15a5.31 5.31 0 1 0 10.62 0a5.31 5.31 0 1 0 -10.62 0M419.86 359.15a5.31 5.31 0 1 0 10.62 0a5.31 5.31 0 1 0 -10.62 0M421.41 219.32a5.31 5.31 0 1 0 10.62 0a5.31 5.31 0 1 0 -10.62 0M422.96 359.15a5.31 5.31 0 1 0 10.62 0a5.31 5.31 0 1 0 -10.62 0M424.5 359.15a5.31 5.31 0 1 0 10.62 0a5.31 5.31 0 1 0 -10.62 0M426.05 359.15a5.31 5.31 0 1 0 10.62 0a5.31 5.31 0 1 0 -10.62 0M427.6 359.15a5.31 5.31 0 1 0 10.62 0a5.31 5.31 0 1 0 -10.62 0M429.15 359.15a5.31 5.31 0 1 0 10.62 0a5.31 5.31 0 1 0 -10.62 0M430.7 359.15a5.31 5.31 0 1 0 10.62 0a5.31 5.31 0 1 0 -10.62 0M432.25 219.32a5.31 5.31 0 1 0 10.62 0a5.31 5.31 0 1 0 -10.62 0M433.8 359.15a5.31 5.31 0 1 0 10.62 0a5.31 5.31 0 1 0 -10.62 0M435.35 359.15a5.31 5.31 0 1 0 10.62 0a5.31 5.31 0 1 0 -10.62 0M436.9 359.15a5.31 5.31 0 1 0 10.62 0a5.31 5.31 0 1 0 -10.62 0M438.45 359.15a5.31 5.31 0 1 0 10.62 0a5.31 5.31 0 1 0 -10.62 0M440 359.15a5.31 5.31 0 1 0 10.62 0a5.31 5.31 0 1 0 -10.62 0M441.55 359.15a5.31 5.31 0 1 0 10.62 0a5.31 5.31 0 1 0 -10.62 0M443.1 219.32a5.31 5.31 0 1 0 10.62 0a5.31 5.31 0 1 0 -10.62 0M444.65 359.15a5.31 5.31 0 1 0 10.62 0a5.31 5.31 0 1 0 -10.62 0M446.2 359.15a5.31 5.31 0 1 0 10.62 0a5.31 5.31 0 1 0 -10.62 0M447.75 359.15a5.31 5.31 0 1 0 10.62 0a5.31 5.31 0 1 0 -10.62 0M449.3 359.15a5.31 5.31 0 1 0 10.62 0a5.31 5.31 0 1 0 -10.62 0M450.85 359.15a5.31 5.31 0 1 0 10.62 0a5.31 5.31 0 1 0 -10.62 0M452.4 359.15a5.31 5.31 0 1 0 10.62 0a5.31 5.31 0 1 0 -10.62 0M453.95 265.93a5.31 5.31 0 1 0 10.62 0a5.31 5.31 0 1 0 -10.62 0M455.5 359.15a5.31 5.31 0 1 0 10.62 0a5.31 5.31 0 1 0 -10.62 0M457.05 359.15a5.31 5.31 0 1 0 10.62 0a5.31 5.31 0 1 0 -10.62 0M458.6 359.15a5.31 5.31 0 1 0 10.62 0a5.31 5.31 0 1 0 -10.62 0M460.15 359.15a5.31 5.31 0 1 0 10.62 0a5.31 5.31 0 1 0 -10.62 0M461.7 359.15a5.31 5.31 0 1 0 10.62 0a5.31 5.31 0 1 0 -10.62 0M463.24 359.15a5.31 5.31 0 1 0 10.62 0a5.31 5.31 0 1 0 -10.62 0M464.79 265.93a5.31 5.31 0 1 0 10.62 0a5.31 5.31 0 1 0 -10.62 0M466.34 359.15a5.31 5.31 0 1 0 10.62 0a5.31 5.31 0 1 0 -10.62 0M467.89 359.15a5.31 5.31 0 1 0 10.62 0a5.31 5.31 0 1 0 -10.62 0M469.44 359.15a5.31 5.31 0 1 0 10.62 0a5.31 5.31 0 1 0 -10.62 0M470.99 359.15a5.31 5.31 0 1 0 10.62 0a5.31 5.31 0 1 0 -10.62 0M472.54 359.15a5.31 5.31 0 1 0 10.62 0a5.31 5.31 0 1 0 -10.62 0M474.09 359.15a5.31 5.31 0 1 0 10.62 0a5.31 5.31 0 1 0 -10.62 0M475.64 126.1a5.31 5.31 0 1 0 10.62 0a5.31 5.31 0 1 0 -10.62 0M477.19 359.15a5.31 5.31 0 1 0 10.62 0a5.31 5.31 0 1 0 -10.62 0M478.74 359.15a5.31 5.31 0 1 0 10.62 0a5.31 5.31 0 1 0 -10.62 0M480.29 359.15a5.31 5.31 0 1 0 10.62 0a5.31 5.31 0 1 0 -10.62 0M481.84 359.15a5.31 5.31 0 1 0 10.62 0a5.31 5.31 0 1 0 -10.62 0M483.39 359.15a5.31 5.31 0 1 0 10.62 0a5.31 5.31 0 1 0 -10.62 0M484.94 359.15a5.31 5.31 0 1 0 10.62 0a5.31 5.31 0 1 0 -10.62 0M486.49 265.93a5.31 5.31 0 1 0 10.62 0a5.31 5.31 0 1 0 -10.62 0M488.04 359.15a5.31 5.31 0 1 0 10.62 0a5.31 5.31 0 1 0 -10.62 0M489.59 359.15a5.31 5.31 0 1 0 10.62 0a5.31 5.31 0 1 0 -10.62 0M491.14 359.15a5.31 5.31 0 1 0 10.62 0a5.31 5.31 0 1 0 -10.62 0M492.69 359.15a5.31 5.31 0 1 0 10.62 0a5.31 5.31 0 1 0 -10.62 0M494.24 359.15a5.31 5.31 0 1 0 10.62 0a5.31 5.31 0 1 0 -10.62 0M495.79 359.15a5.31 5.31 0 1 0 10.62 0a5.31 5.31 0 1 0 -10.62 0M497.34 219.32a5.31 5.31 0 1 0 10.62 0a5.31 5.31 0 1 0 -10.62 0M498.89 359.15a5.31 5.31 0 1 0 10.62 0a5.31 5.31 0 1 0 -10.62 0M500.44 359.15a5.31 5.31 0 1 0 10.62 0a5.31 5.31 0 1 0 -10.62 0M501.98 359.15a5.31 5.31 0 1 0 10.62 0a5.31 5.31 0 1 0 -10.62 0M503.53 359.15a5.31 5.31 0 1 0 10.62 0a5.31 5.31 0 1 0 -10.62 0M505.08 359.15a5.31 5.31 0 1 0 10.62 0a5.31 5.31 0 1 0 -10.62 0M506.63 359.15a5.31 5.31 0 1 0 10.62 0a5.31 5.31 0 1 0 -10.62 0M508.18 219.32a5.31 5.31 0 1 0 10.62 0a5.31 5.31 0 1 0 -10.62 0M509.73 359.15a5.31 5.31 0 1 0 10.62 0a5.31 5.31 0 1 0 -10.62 0M511.28 359.15a5.31 5.31 0 1 0 10.62 0a5.31 5.31 0 1 0 -10.62 0M512.83 359.15a5.31 5.31 0 1 0 10.62 0a5.31 5.31 0 1 0 -10.62 0M514.38 359.15a5.31 5.31 0 1 0 10.62 0a5.31 5.31 0 1 0 -10.62 0M515.93 359.15a5.31 5.31 0 1 0 10.62 0a5.31 5.31 0 1 0 -10.62 0M517.48 359.15a5.31 5.31 0 1 0 10.62 0a5.31 5.31 0 1 0 -10.62 0M519.03 219.32a5.31 5.31 0 1 0 10.62 0a5.31 5.31 0 1 0 -10.62 0M520.58 359.15a5.31 5.31 0 1 0 10.62 0a5.31 5.31 0 1 0 -10.62 0M522.13 359.15a5.31 5.31 0 1 0 10.62 0a5.31 5.31 0 1 0 -10.62 0M523.68 359.15a5.31 5.31 0 1 0 10.62 0a5.31 5.31 0 1 0 -10.62 0M525.23 359.15a5.31 5.31 0 1 0 10.62 0a5.31 5.31 0 1 0 -10.62 0M526.78 359.15a5.31 5.31 0 1 0 10.62 0a5.31 5.31 0 1 0 -10.62 0M528.33 359.15a5.31 5.31 0 1 0 10.62 0a5.31 5.31 0 1 0 -10.62 0M529.88 219.32a5.31 5.31 0 1 0 10.62 0a5.31 5.31 0 1 0 -10.62 0M531.43 359.15a5.31 5.31 0 1 0 10.62 0a5.31 5.31 0 1 0 -10.62 0M532.98 359.15a5.31 5.31 0 1 0 10.62 0a5.31 5.31 0 1 0 -10.62 0M534.53 359.15a5.31 5.31 0 1 0 10.62 0a5.31 5.31 0 1 0 -10.62 0M536.08 359.15a5.31 5.31 0 1 0 10.62 0a5.31 5.31 0 1 0 -10.62 0M537.63 359.15a5.31 5.31 0 1 0 10.62 0a5.31 5.31 0 1 0 -10.62 0M539.18 359.15a5.31 5.31 0 1 0 10.62 0a5.31 5.31 0 1 0 -10.62 0M540.72 172.71a5.31 5.31 0 1 0 10.62 0a5.31 5.31 0 1 0 -10.62 0M542.27 359.15a5.31 5.31 0 1 0 10.62 0a5.31 5.31 0 1 0 -10.62 0M543.82 359.15a5.31 5.31 0 1 0 10.62 0a5.31 5.31 0 1 0 -10.62 0M545.37 359.15a5.31 5.31 0 1 0 10.62 0a5.31 5.31 0 1 0 -10.62 0M546.92 359.15a5.31 5.31 0 1 0 10.62 0a5.31 5.31 0 1 0 -10.62 0M548.47 359.15a5.31 5.31 0 1 0 10.62 0a5.31 5.31 0 1 0 -10.62 0M550.02 359.15a5.31 5.31 0 1 0 10.62 0a5.31 5.31 0 1 0 -10.62 0M551.57 79.49a5.31 5.31 0 1 0 10.62 0a5.31 5.31 0 1 0 -10.62 0M553.12 359.15a5.31 5.31 0 1 0 10.62 0a5.31 5.31 0 1 0 -10.62 0M554.67 359.15a5.31 5.31 0 1 0 10.62 0a5.31 5.31 0 1 0 -10.62 0M556.22 359.15a5.31 5.31 0 1 0 10.62 0a5.31 5.31 0 1 0 -10.62 0M557.77 359.15a5.31 5.31 0 1 0 10.62 0a5.31 5.31 0 1 0 -10.62 0M559.32 359.15a5.31 5.31 0 1 0 10.62 0a5.31 5.31 0 1 0 -10.62 0M560.87 359.15a5.31 5.31 0 1 0 10.62 0a5.31 5.31 0 1 0 -10.62 0M562.42 219.32a5.31 5.31 0 1 0 10.62 0a5.31 5.31 0 1 0 -10.62 0M563.97 359.15a5.31 5.31 0 1 0 10.62 0a5.31 5.31 0 1 0 -10.62 0M565.52 359.15a5.31 5.31 0 1 0 10.62 0a5.31 5.31 0 1 0 -10.62 0M567.07 359.15a5.31 5.31 0 1 0 10.62 0a5.31 5.31 0 1 0 -10.62 0M568.62 359.15a5.31 5.31 0 1 0 10.62 0a5.31 5.31 0 1 0 -10.62 0M570.17 359.15a5.31 5.31 0 1 0 10.62 0a5.31 5.31 0 1 0 -10.62 0M571.72 359.15a5.31 5.31 0 1 0 10.62 0a5.31 5.31 0 1 0 -10.62 0M573.27 219.32a5.31 5.31 0 1 0 10.62 0a5.31 5.31 0 1 0 -10.62 0M574.82 359.15a5.31 5.31 0 1 0 10.62 0a5.31 5.31 0 1 0 -10.62 0M576.37 359.15a5.31 5.31 0 1 0 10.62 0a5.31 5.31 0 1 0 -10.62 0M577.92 359.15a5.31 5.31 0 1 0 10.62 0a5.31 5.31 0 1 0 -10.62 0M579.46 359.15a5.31 5.31 0 1 0 10.62 0a5.31 5.31 0 1 0 -10.62 0M581.01 359.15a5.31 5.31 0 1 0 10.62 0a5.31 5.31 0 1 0 -10.62 0M582.56 359.15a5.31 5.31 0 1 0 10.62 0a5.31 5.31 0 1 0 -10.62 0M584.11 219.32a5.31 5.31 0 1 0 10.62 0a5.31 5.31 0 1 0 -10.62 0M585.66 359.15a5.31 5.31 0 1 0 10.62 0a5.31 5.31 0 1 0 -10.62 0M587.21 359.15a5.31 5.31 0 1 0 10.62 0a5.31 5.31 0 1 0 -10.62 0M588.76 359.15a5.31 5.31 0 1 0 10.62 0a5.31 5.31 0 1 0 -10.62 0M590.31 359.15a5.31 5.31 0 1 0 10.62 0a5.31 5.31 0 1 0 -10.62 0M591.86 359.15a5.31 5.31 0 1 0 10.62 0a5.31 5.31 0 1 0 -10.62 0M593.41 359.15a5.31 5.31 0 1 0 10.62 0a5.31 5.31 0 1 0 -10.62 0M594.96 219.32a5.31 5.31 0 1 0 10.62 0a5.31 5.31 0 1 0 -10.62 0M596.51 359.15a5.31 5.31 0 1 0 10.62 0a5.31 5.31 0 1 0 -10.62 0M598.06 359.15a5.31 5.31 0 1 0 10.62 0a5.31 5.31 0 1 0 -10.62 0M599.61 359.15a5.31 5.31 0 1 0 10.62 0a5.31 5.31 0 1 0 -10.62 0M601.16 359.15a5.31 5.31 0 1 0 10.62 0a5.31 5.31 0 1 0 -10.62 0M602.71 359.15a5.31 5.31 0 1 0 10.62 0a5.31 5.31 0 1 0 -10.62 0M604.26 359.15a5.31 5.31 0 1 0 10.62 0a5.31 5.31 0 1 0 -10.62 0M605.81 219.32a5.31 5.31 0 1 0 10.62 0a5.31 5.31 0 1 0 -10.62 0M607.36 359.15a5.31 5.31 0 1 0 10.62 0a5.31 5.31 0 1 0 -10.62 0M608.91 359.15a5.31 5.31 0 1 0 10.62 0a5.31 5.31 0 1 0 -10.62 0M610.46 359.15a5.31 5.31 0 1 0 10.62 0a5.31 5.31 0 1 0 -10.62 0M612.01 359.15a5.31 5.31 0 1 0 10.62 0a5.31 5.31 0 1 0 -10.62 0M613.56 359.15a5.31 5.31 0 1 0 10.62 0a5.31 5.31 0 1 0 -10.62 0M615.11 359.15a5.31 5.31 0 1 0 10.62 0a5.31 5.31 0 1 0 -10.62 0M616.66 265.93a5.31 5.31 0 1 0 10.62 0a5.31 5.31 0 1 0 -10.62 0M618.2 359.15a5.31 5.31 0 1 0 10.62 0a5.31 5.31 0 1 0 -10.62 0M619.75 359.15a5.31 5.31 0 1 0 10.62 0a5.31 5.31 0 1 0 -10.62 0M621.3 359.15a5.31 5.31 0 1 0 10.62 0a5.31 5.31 0 1 0 -10.62 0M622.85 359.15a5.31 5.31 0 1 0 10.62 0a5.31 5.31 0 1 0 -10.62 0M624.4 359.15a5.31 5.31 0 1 0 10.62 0a5.31 5.31 0 1 0 -10.62 0M625.95 359.15a5.31 5.31 0 1 0 10.62 0a5.31 5.31 0 1 0 -10.62 0" fill="#0072bd"/>
<path d="M101.3 354.86L97.59 361.29L105.01 361.29ZM102.85 354.86L99.14 361.29L106.56 361.29ZM104.4 354.86L100.69 361.29L108.11 361.29ZM105.95 354.86L102.24 361.29L109.66 361.29ZM107.5 354.86L103.79 361.29L111.21 361.29ZM109.05 354.86L105.34 361.29L112.76 361.29ZM110.6 354.86L106.89 361.29L114.31 361.29ZM112.15 354.86L108.44 361.29L115.86 361.29ZM113.7 354.86L109.99 361.29L117.41 361.29ZM115.25 354.86L111.54 361.29L118.96 361.29ZM116.8 354.86L113.08 361.29L120.51 361.29ZM118.35 354.86L114.63 361.29L122.06 361.29ZM119.89 354.86L116.18 361.29L123.61 361.29ZM121.44 354.86L117.73 361.29L125.16 361.29ZM122.99 354.86L119.28 361.29L126.7 361.29ZM124.54 354.86L120.83 361.29L128.25 361.29ZM126.09 354.86L122.38 361.29L129.8 361.29ZM127.64 354.86L123.93 361.29L131.35 361.29ZM129.19 354.86L125.48 361.29L132.9 361.29ZM130.74 354.86L127.03 361.29L134.45 361.29ZM132.29 354.86L128.58 361.29L136 361.29ZM133.84 354.86L130.13 361.29L137.55 361.29ZM135.39 354.86L131.68 361.29L139.1 361.29ZM136.94 354.86L133.23 361.29L140.65 361.29ZM138.49 354.86L134.78 361.29L142.2 361.29ZM140.04 354.86L136.33 361.29L143.75 361.29ZM141.59 354.86L137.88 361.29L145.3 361.29ZM143.14 354.86L139.43 361.29L146.85 361.29ZM144.69 354.86L140.98 361.29L148.4 361.29ZM146.24 354.86L142.53 361.29L149.95 361.29ZM147.79 354.86L144.08 361.29L151.5 361.29ZM149.34 354.86L145.63 361.29L153.05 361.29ZM150.89 354.86L147.18 361.29L154.6 361.29ZM152.44 354.86L148.73 361.29L156.15 361.29ZM153.99 354.86L150.28 361.29L157.7 361.29ZM155.54 354.86L151.82 361.29L159.25 361.29ZM157.09 354.86L153.37 361.29L160.8 361.29ZM158.63 354.86L154.92 361.29L162.35 361.29ZM160.18 354.86L156.47 361.29L163.9 361.29ZM161.73 354.86L158.02 361.29L165.44 361.29ZM163.28 354.86L159.57 361.29L166.99 361.29ZM164.83 354.86L161.12 361.29L168.54 361.29ZM166.38 354.86L162.67 361.29L170.09 361.29ZM167.93 354.86L164.22 361.29L171.64 361.29ZM169.48 354.86L165.77 361.29L173.19 361.29ZM171.03 354.86L167.32 361.29L174.74 361.29ZM172.58 354.86L168.87 361.29L176.29 361.29ZM174.13 354.86L170.42 361.29L177.84 361.29ZM175.68 354.86L171.97 361.29L179.39 361.29ZM177.23 308.25L173.52 314.68L180.94 314.68ZM178.78 354.86L175.07 361.29L182.49 361.29ZM180.33 354.86L176.62 361.29L184.04 361.29ZM181.88 354.86L178.17 361.29L185.59 361.29ZM183.43 354.86L179.72 361.29L187.14 361.29ZM184.98 354.86L181.27 361.29L188.69 361.29ZM186.53 354.86L182.82 361.29L190.24 361.29ZM188.08 354.86L184.37 361.29L191.79 361.29ZM189.63 354.86L185.92 361.29L193.34 361.29ZM191.18 354.86L187.47 361.29L194.89 361.29ZM192.73 354.86L189.02 361.29L196.44 361.29ZM194.28 354.86L190.56 361.29L197.99 361.29ZM195.83 354.86L192.11 361.29L199.54 361.29ZM197.37 354.86L193.66 361.29L201.09 361.29ZM198.92 354.86L195.21 361.29L202.64 361.29ZM200.47 354.86L196.76 361.29L204.18 361.29ZM202.02 354.86L198.31 361.29L205.73 361.29ZM203.57 354.86L199.86 361.29L207.28 361.29ZM205.12 354.86L201.41 361.29L208.83 361.29ZM206.67 354.86L202.96 361.29L210.38 361.29ZM208.22 354.86L204.51 361.29L211.93 361.29ZM209.77 354.86L206.06 361.29L213.48 361.29ZM211.32 354.86L207.61 361.29L215.03 361.29ZM212.87 354.86L209.16 361.29L216.58 361.29ZM214.42 354.86L210.71 361.29L218.13 361.29ZM215.97 354.86L212.26 361.29L219.68 361.29ZM217.52 354.86L213.81 361.29L221.23 361.29ZM219.07 354.86L215.36 361.29L222.78 361.29ZM220.62 354.86L216.91 361.29L224.33 361.29ZM222.17 354.86L218.46 361.29L225.88 361.29ZM223.72 354.86L220.01 361.29L227.43 361.29ZM225.27 354.86L221.56 361.29L228.98 361.29ZM226.82 354.86L223.11 361.29L230.53 361.29ZM228.37 354.86L224.66 361.29L232.08 361.29ZM229.92 354.86L226.21 361.29L233.63 361.29ZM231.47 354.86L227.76 361.29L235.18 361.29ZM233.02 354.86L229.3 361.29L236.73 361.29ZM234.57 354.86L230.85 361.29L238.28 361.29ZM236.11 354.86L232.4 361.29L239.83 361.29ZM237.66 354.86L233.95 361.29L241.38 361.29ZM239.21 354.86L235.5 361.29L242.92 361.29ZM240.76 354.86L237.05 361.29L244.47 361.29ZM242.31 354.86L238.6 361.29L246.02 361.29ZM243.86 354.86L240.15 361.29L247.57 361.29ZM245.41 354.86L241.7 361.29L249.12 361.29ZM246.96 354.86L243.25 361.29L250.67 361.29ZM248.51 354.86L244.8 361.29L252.22 361.29ZM250.06 354.86L246.35 361.29L253.77 361.29ZM251.61 354.86L247.9 361.29L255.32 361.29ZM253.16 308.25L249.45 314.68L256.87 314.68ZM254.71 354.86L251 361.29L258.42 361.29ZM256.26 354.86L252.55 361.29L259.97 361.29ZM257.81 354.86L254.1 361.29L261.52 361.29ZM259.36 354.86L255.65 361.29L263.07 361.29ZM260.91 354.86L257.2 361.29L264.62 361.29ZM262.46 354.86L258.75 361.29L266.17 361.29ZM264.01 354.86L260.3 361.29L267.72 361.29ZM265.56 354.86L261.85 361.29L269.27 361.29ZM267.11 354.86L263.4 361.29L270.82 361.29ZM268.66 354.86L264.95 361.29L272.37 361.29ZM270.21 354.86L266.5 361.29L273.92 361.29ZM271.76 354.86L268.04 361.29L275.47 361.29ZM273.31 354.86L269.59 361.29L277.02 361.29ZM274.85 354.86L271.14 361.29L278.57 361.29ZM276.4 354.86L272.69 361.29L280.12 361.29ZM277.95 354.86L274.24 361.29L281.66 361.29ZM279.5 354.86L275.79 361.29L283.21 361.29ZM281.05 354.86L277.34 361.29L284.76 361.29ZM282.6 354.86L278.89 361.29L286.31 361.29ZM284.15 354.86L280.44 361.29L287.86 361.29ZM285.7 354.86L281.99 361.29L289.41 361.29ZM287.25 354.86L283.54 361.29L290.96 361.29ZM288.8 354.86L285.09 361.29L292.51 361.29ZM290.35 354.86L286.64 361.29L294.06 361.29ZM291.9 354.86L288.19 361.29L295.61 361.29ZM293.45 354.86L289.74 361.29L297.16 361.29ZM295 354.86L291.29 361.29L298.71 361.29ZM296.55 354.86L292.84 361.29L300.26 361.29ZM298.1 354.86L294.39 361.29L301.81 361.29ZM299.65 354.86L295.94 361.29L303.36 361.29ZM301.2 354.86L297.49 361.29L304.91 361.29ZM302.75 354.86L299.04 361.29L306.46 361.29ZM304.3 354.86L300.59 361.29L308.01 361.29ZM305.85 354.86L302.14 361.29L309.56 361.29ZM307.4 354.86L303.69 361.29L311.11 361.29ZM308.95 354.86L305.24 361.29L312.66 361.29ZM310.5 354.86L306.78 361.29L314.21 361.29ZM312.05 354.86L308.33 361.29L315.76 361.29ZM313.59 354.86L309.88 361.29L317.31 361.29ZM315.14 354.86L311.43 361.29L318.86 361.29ZM316.69 354.86L312.98 361.29L320.4 361.29ZM318.24 354.86L314.53 361.29L321.95 361.29ZM319.79 354.86L316.08 361.29L323.5 361.29ZM321.34 354.86L317.63 361.29L325.05 361.29ZM322.89 354.86L319.18 361.29L326.6 361.29ZM324.44 354.86L320.73 361.29L328.15 361.29ZM325.99 354.86L322.28 361.29L329.7 361.29ZM327.54 354.86L323.83 361.29L331.25 361.29ZM329.09 308.25L325.38 314.68L332.8 314.68ZM330.64 354.86L326.93 361.29L334.35 361.29ZM332.19 354.86L328.48 361.29L335.9 361.29ZM333.74 354.86L330.03 361.29L337.45 361.29ZM335.29 354.86L331.58 361.29L339 361.29ZM336.84 354.86L333.13 361.29L340.55 361.29ZM338.39 354.86L334.68 361.29L342.1 361.29ZM339.94 354.86L336.23 361.29L343.65 361.29ZM341.49 354.86L337.78 361.29L345.2 361.29ZM343.04 354.86L339.33 361.29L346.75 361.29ZM344.59 354.86L340.88 361.29L348.3 361.29ZM346.14 354.86L342.43 361.29L349.85 361.29ZM347.69 354.86L343.98 361.29L351.4 361.29ZM349.24 354.86L345.52 361.29L352.95 361.29ZM350.79 354.86L347.07 361.29L354.5 361.29ZM352.33 354.86L348.62 361.29L356.05 361.29ZM353.88 354.86L350.17 361.29L357.6 361.29ZM355.43 354.86L351.72 361.29L359.14 361.29ZM356.98 354.86L353.27 361.29L360.69 361.29ZM358.53 354.86L354.82 361.29L362.24 361.29ZM360.08 354.86L356.37 361.29L363.79 361.29ZM361.63 354.86L357.92 361.29L365.34 361.29ZM363.18 354.86L359.47 361.29L366.89 361.29ZM364.73 354.86L361.02 361.29L368.44 361.29ZM366.28 354.86L362.57 361.29L369.99 361.29ZM367.83 354.86L364.12 361.29L371.54 361.29ZM369.38 354.86L365.67 361.29L373.09 361.29ZM370.93 354.86L367.22 361.29L374.64 361.29ZM372.48 354.86L368.77 361.29L376.19 361.29ZM374.03 354.86L370.32 361.29L377.74 361.29ZM375.58 354.86L371.87 361.29L379.29 361.29ZM377.13 354.86L373.42 361.29L380.84 361.29ZM378.68 354.86L374.97 361.29L382.39 361.29ZM380.23 354.86L376.52 361.29L383.94 361.29ZM381.78 354.86L378.07 361.29L385.49 361.29ZM383.33 354.86L379.62 361.29L387.04 361.29ZM384.88 354.86L381.17 361.29L388.59 361.29ZM386.43 354.86L382.72 361.29L390.14 361.29ZM387.98 354.86L384.26 361.29L391.69 361.29ZM389.53 354.86L385.81 361.29L393.24 361.29ZM391.07 354.86L387.36 361.29L394.79 361.29ZM392.62 354.86L388.91 361.29L396.34 361.29ZM394.17 354.86L390.46 361.29L397.88 361.29ZM395.72 354.86L392.01 361.29L399.43 361.29ZM397.27 354.86L393.56 361.29L400.98 361.29ZM398.82 354.86L395.11 361.29L402.53 361.29ZM400.37 354.86L396.66 361.29L404.08 361.29ZM401.92 354.86L398.21 361.29L405.63 361.29ZM403.47 354.86L399.76 361.29L407.18 361.29ZM405.02 261.64L401.31 268.07L408.73 268.07ZM406.57 354.86L402.86 361.29L410.28 361.29ZM408.12 354.86L404.41 361.29L411.83 361.29ZM409.67 354.86L405.96 361.29L413.38 361.29ZM411.22 354.86L407.51 361.29L414.93 361.29ZM412.77 354.86L409.06 361.29L416.48 361.29ZM414.32 354.86L410.61 361.29L418.03 361.29ZM415.87 354.86L412.16 361.29L419.58 361.29ZM417.42 354.86L413.71 361.29L421.13 361.29ZM418.97 354.86L415.26 361.29L422.68 361.29ZM420.52 354.86L416.81 361.29L424.23 361.29ZM422.07 354.86L418.36 361.29L425.78 361.29ZM423.62 354.86L419.91 361.29L427.33 361.29ZM425.17 354.86L421.46 361.29L428.88 361.29ZM426.72 354.86L423 361.29L430.43 361.29ZM428.27 354.86L424.55 361.29L431.98 361.29ZM429.81 354.86L426.1 361.29L433.53 361.29ZM431.36 354.86L427.65 361.29L435.08 361.29ZM432.91 354.86L429.2 361.29L436.62 361.29ZM434.46 354.86L430.75 361.29L438.17 361.29ZM436.01 354.86L432.3 361.29L439.72 361.29ZM437.56 354.86L433.85 361.29L441.27 361.29ZM439.11 354.86L435.4 361.29L442.82 361.29ZM440.66 354.86L436.95 361.29L444.37 361.29ZM442.21 354.86L438.5 361.29L445.92 361.29ZM443.76 354.86L440.05 361.29L447.47 361.29ZM445.31 354.86L441.6 361.29L449.02 361.29ZM446.86 354.86L443.15 361.29L450.57 361.29ZM448.41 354.86L444.7 361.29L452.12 361.29ZM449.96 354.86L446.25 361.29L453.67 361.29ZM451.51 354.86L447.8 361.29L455.22 361.29ZM453.06 354.86L449.35 361.29L456.77 361.29ZM454.61 354.86L450.9 361.29L458.32 361.29ZM456.16 354.86L452.45 361.29L459.87 361.29ZM457.71 354.86L454 361.29L461.42 361.29ZM459.26 354.86L455.55 361.29L462.97 361.29ZM460.81 354.86L457.1 361.29L464.52 361.29ZM462.36 354.86L458.65 361.29L466.07 361.29ZM463.91 354.86L460.2 361.29L467.62 361.29ZM465.46 354.86L461.74 361.29L469.17 361.29ZM467.01 354.86L463.29 361.29L470.72 361.29ZM468.55 354.86L464.84 361.29L472.27 361.29ZM470.1 354.86L466.39 361.29L473.82 361.29ZM471.65 354.86L467.94 361.29L475.36 361.29ZM473.2 354.86L469.49 361.29L476.91 361.29ZM474.75 354.86L471.04 361.29L478.46 361.29ZM476.3 354.86L472.59 361.29L480.01 361.29ZM477.85 354.86L474.14 361.29L481.56 361.29ZM479.4 354.86L475.69 361.29L483.11 361.29ZM480.95 261.64L477.24 268.07L484.66 268.07ZM482.5 354.86L478.79 361.29L486.21 361.29ZM484.05 354.86L480.34 361.29L487.76 361.29ZM485.6 354.86L481.89 361.29L489.31 361.29ZM487.15 354.86L483.44 361.29L490.86 361.29ZM488.7 354.86L484.99 361.29L492.41 361.29ZM490.25 354.86L486.54 361.29L493.96 361.29ZM491.8 354.86L488.09 361.29L495.51 361.29ZM493.35 354.86L489.64 361.29L497.06 361.29ZM494.9 354.86L491.19 361.29L498.61 361.29ZM496.45 354.86L492.74 361.29L500.16 361.29ZM498 354.86L494.29 361.29L501.71 361.29ZM499.55 354.86L495.84 361.29L503.26 361.29ZM501.1 354.86L497.39 361.29L504.81 361.29ZM502.65 354.86L498.94 361.29L506.36 361.29ZM504.2 354.86L500.48 361.29L507.91 361.29ZM505.75 354.86L502.03 361.29L509.46 361.29ZM507.29 354.86L503.58 361.29L511.01 361.29ZM508.84 354.86L505.13 361.29L512.56 361.29ZM510.39 354.86L506.68 361.29L514.1 361.29ZM511.94 354.86L508.23 361.29L515.65 361.29ZM513.49 354.86L509.78 361.29L517.2 361.29ZM515.04 354.86L511.33 361.29L518.75 361.29ZM516.59 354.86L512.88 361.29L520.3 361.29ZM518.14 354.86L514.43 361.29L521.85 361.29ZM519.69 354.86L515.98 361.29L523.4 361.29ZM521.24 354.86L517.53 361.29L524.95 361.29ZM522.79 354.86L519.08 361.29L526.5 361.29ZM524.34 354.86L520.63 361.29L528.05 361.29ZM525.89 354.86L522.18 361.29L529.6 361.29ZM527.44 354.86L523.73 361.29L531.15 361.29ZM528.99 354.86L525.28 361.29L532.7 361.29ZM530.54 354.86L526.83 361.29L534.25 361.29ZM532.09 354.86L528.38 361.29L535.8 361.29ZM533.64 354.86L529.93 361.29L537.35 361.29ZM535.19 354.86L531.48 361.29L538.9 361.29ZM536.74 354.86L533.03 361.29L540.45 361.29ZM538.29 354.86L534.58 361.29L542 361.29ZM539.84 354.86L536.13 361.29L543.55 361.29ZM541.39 354.86L537.68 361.29L545.1 361.29ZM542.94 354.86L539.22 361.29L546.65 361.29ZM544.49 354.86L540.77 361.29L548.2 361.29ZM546.03 354.86L542.32 361.29L549.75 361.29ZM547.58 354.86L543.87 361.29L551.3 361.29ZM549.13 354.86L545.42 361.29L552.84 361.29ZM550.68 354.86L546.97 361.29L554.39 361.29ZM552.23 354.86L548.52 361.29L555.94 361.29ZM553.78 354.86L550.07 361.29L557.49 361.29ZM555.33 354.86L551.62 361.29L559.04 361.29ZM556.88 261.64L553.17 268.07L560.59 268.07ZM558.43 354.86L554.72 361.29L562.14 361.29ZM559.98 354.86L556.27 361.29L563.69 361.29ZM561.53 354.86L557.82 361.29L565.24 361.29ZM563.08 354.86L559.37 361.29L566.79 361.29ZM564.63 354.86L560.92 361.29L568.34 361.29ZM566.18 354.86L562.47 361.29L569.89 361.29ZM567.73 354.86L564.02 361.29L571.44 361.29ZM569.28 354.86L565.57 361.29L572.99 361.29ZM570.83 354.86L567.12 361.29L574.54 361.29ZM572.38 354.86L568.67 361.29L576.09 361.29ZM573.93 354.86L570.22 361.29L577.64 361.29ZM575.48 354.86L571.77 361.29L579.19 361.29ZM577.03 354.86L573.32 361.29L580.74 361.29ZM578.58 354.86L574.87 361.29L582.29 361.29ZM580.13 354.86L576.42 361.29L583.84 361.29ZM581.68 354.86L577.96 361.29L585.39 361.29ZM583.23 354.86L579.51 361.29L586.94 361.29ZM584.77 354.86L581.06 361.29L588.49 361.29ZM586.32 354.86L582.61 361.29L590.04 361.29ZM587.87 354.86L584.16 361.29L591.58 361.29ZM589.42 354.86L585.71 361.29L593.13 361.29ZM590.97 354.86L587.26 361.29L594.68 361.29ZM592.52 354.86L588.81 361.29L596.23 361.29ZM594.07 354.86L590.36 361.29L597.78 361.29ZM595.62 354.86L591.91 361.29L599.33 361.29ZM597.17 354.86L593.46 361.29L600.88 361.29ZM598.72 354.86L595.01 361.29L602.43 361.29ZM600.27 354.86L596.56 361.29L603.98 361.29ZM601.82 354.86L598.11 361.29L605.53 361.29ZM603.37 354.86L599.66 361.29L607.08 361.29ZM604.92 354.86L601.21 361.29L608.63 361.29ZM606.47 354.86L602.76 361.29L610.18 361.29ZM608.02 354.86L604.31 361.29L611.73 361.29ZM609.57 354.86L605.86 361.29L613.28 361.29ZM611.12 354.86L607.41 361.29L614.83 361.29ZM612.67 354.86L608.96 361.29L616.38 361.29ZM614.22 354.86L610.51 361.29L617.93 361.29ZM615.77 354.86L612.06 361.29L619.48 361.29ZM617.32 354.86L613.61 361.29L621.03 361.29ZM618.87 354.86L615.16 361.29L622.58 361.29ZM620.42 354.86L616.7 361.29L624.13 361.29ZM621.97 354.86L618.25 361.29L625.68 361.29ZM623.51 354.86L619.8 361.29L627.23 361.29ZM625.06 354.86L621.35 361.29L628.78 361.29ZM626.61 354.86L622.9 361.29L630.32 361.29ZM628.16 354.86L624.45 361.29L631.87 361.29ZM629.71 354.86L626 361.29L633.42 361.29ZM631.26 354.86L627.55 361.29L634.97 361.29Z" fill="#d95319" stroke="#d95319" stroke-width="2.05" stroke-miterlimit="10"/>
<path d="M101.3 354.86L104.51 359.15L101.3 363.44L98.09 359.15ZM102.85 354.86L106.06 359.15L102.85 363.44L99.64 359.15ZM104.4 354.86L107.61 359.15L104.4 363.44L101.19 359.15ZM105.95 354.86L109.16 359.15L105.95 363.44L102.73 359.15ZM107.5 354.86L110.71 359.15L107.5 363.44L104.28 359.15ZM109.05 354.86L112.26 359.15L109.05 363.44L105.83 359.15ZM110.6 354.86L113.81 359.15L110.6 363.44L107.38 359.15ZM112.15 354.86L115.36 359.15L112.15 363.44L108.93 359.15ZM113.7 354.86L116.91 359.15L113.7 363.44L110.48 359.15ZM115.25 354.86L118.46 359.15L115.25 363.44L112.03 359.15ZM116.8 354.86L120.01 359.15L116.8 363.44L113.58 359.15ZM118.35 354.86L121.56 359.15L118.35 363.44L115.13 359.15ZM119.89 354.86L123.11 359.15L119.89 363.44L116.68 359.15ZM121.44 354.86L124.66 359.15L121.44 363.44L118.23 359.15ZM122.99 354.86L126.21 359.15L122.99 363.44L119.78 359.15ZM124.54 354.86L127.76 359.15L124.54 363.44L121.33 359.15ZM126.09 354.86L129.31 359.15L126.09 363.44L122.88 359.15ZM127.64 354.86L130.86 359.15L127.64 363.44L124.43 359.15ZM129.19 354.86L132.41 359.15L129.19 363.44L125.98 359.15ZM130.74 354.86L133.96 359.15L130.74 363.44L127.53 359.15ZM132.29 354.86L135.51 359.15L132.29 363.44L129.08 359.15ZM133.84 354.86L137.05 359.15L133.84 363.44L130.63 359.15ZM135.39 354.86L138.6 359.15L135.39 363.44L132.18 359.15ZM136.94 354.86L140.15 359.15L136.94 363.44L133.73 359.15ZM138.49 354.86L141.7 359.15L138.49 363.44L135.28 359.15ZM140.04 354.86L143.25 359.15L140.04 363.44L136.83 359.15ZM141.59 354.86L144.8 359.15L141.59 363.44L138.38 359.15ZM143.14 354.86L146.35 359.15L143.14 363.44L139.93 359.15ZM144.69 354.86L147.9 359.15L144.69 363.44L141.47 359.15ZM146.24 354.86L149.45 359.15L146.24 363.44L143.02 359.15ZM147.79 354.86L151 359.15L147.79 363.44L144.57 359.15ZM149.34 354.86L152.55 359.15L149.34 363.44L146.12 359.15ZM150.89 354.86L154.1 359.15L150.89 363.44L147.67 359.15ZM152.44 354.86L155.65 359.15L152.44 363.44L149.22 359.15ZM153.99 354.86L157.2 359.15L153.99 363.44L150.77 359.15ZM155.54 354.86L158.75 359.15L155.54 363.44L152.32 359.15ZM157.09 354.86L160.3 359.15L157.09 363.44L153.87 359.15ZM158.63 354.86L161.85 359.15L158.63 363.44L155.42 359.15ZM160.18 354.86L163.4 359.15L160.18 363.44L156.97 359.15ZM161.73 354.86L164.95 359.15L161.73 363.44L158.52 359.15ZM163.28 354.86L166.5 359.15L163.28 363.44L160.07 359.15ZM164.83 354.86L168.05 359.15L164.83 363.44L161.62 359.15ZM166.38 354.86L169.6 359.15L166.38 363.44L163.17 359.15ZM167.93 354.86L171.15 359.15L167.93 363.44L164.72 359.15ZM169.48 354.86L172.7 359.15L169.48 363.44L166.27 359.15ZM171.03 354.86L174.25 359.15L171.03 363.44L167.82 359.15ZM172.58 354.86L175.79 359.15L172.58 363.44L169.37 359.15ZM174.13 354.86L177.34 359.15L174.13 363.44L170.92 359.15ZM175.68 354.86L178.89 359.15L175.68 363.44L172.47 359.15ZM177.23 121.81L180.44 126.1L177.23 130.38L174.02 126.1ZM178.78 354.86L181.99 359.15L178.78 363.44L175.57 359.15ZM180.33 354.86L183.54 359.15L180.33 363.44L177.12 359.15ZM181.88 354.86L185.09 359.15L181.88 363.44L178.67 359.15ZM183.43 354.86L186.64 359.15L183.43 363.44L180.21 359.15ZM184.98 354.86L188.19 359.15L184.98 363.44L181.76 359.15ZM186.53 354.86L189.74 359.15L186.53 363.44L183.31 359.15ZM188.08 354.86L191.29 359.15L188.08 363.44L184.86 359.15ZM189.63 354.86L192.84 359.15L189.63 363.44L186.41 359.15ZM191.18 354.86L194.39 359.15L191.18 363.44L187.96 359.15ZM192.73 354.86L195.94 359.15L192.73 363.44L189.51 359.15ZM194.28 354.86L197.49 359.15L194.28 363.44L191.06 359.15ZM195.83 354.86L199.04 359.15L195.83 363.44L192.61 359.15ZM197.37 354.86L200.59 359.15L197.37 363.44L194.16 359.15ZM198.92 354.86L202.14 359.15L198.92 363.44L195.71 359.15ZM200.47 354.86L203.69 359.15L200.47 363.44L197.26 359.15ZM202.02 354.86L205.24 359.15L202.02 363.44L198.81 359.15ZM203.57 354.86L206.79 359.15L203.57 363.44L200.36 359.15ZM205.12 354.86L208.34 359.15L205.12 363.44L201.91 359.15ZM206.67 354.86L209.89 359.15L206.67 363.44L203.46 359.15ZM208.22 354.86L211.44 359.15L208.22 363.44L205.01 359.15ZM209.77 354.86L212.99 359.15L209.77 363.44L206.56 359.15ZM211.32 354.86L214.53 359.15L211.32 363.44L208.11 359.15ZM212.87 354.86L216.08 359.15L212.87 363.44L209.66 359.15ZM214.42 354.86L217.63 359.15L214.42 363.44L211.21 359.15ZM215.97 354.86L219.18 359.15L215.97 363.44L212.76 359.15ZM217.52 354.86L220.73 359.15L217.52 363.44L214.31 359.15ZM219.07 354.86L222.28 359.15L219.07 363.44L215.86 359.15ZM220.62 354.86L223.83 359.15L220.62 363.44L217.41 359.15ZM222.17 354.86L225.38 359.15L222.17 363.44L218.95 359.15ZM223.72 354.86L226.93 359.15L223.72 363.44L220.5 359.15ZM225.27 354.86L228.48 359.15L225.27 363.44L222.05 359.15ZM226.82 354.86L230.03 359.15L226.82 363.44L223.6 359.15ZM228.37 354.86L231.58 359.15L228.37 363.44L225.15 359.15ZM229.92 354.86L233.13 359.15L229.92 363.44L226.7 359.15ZM231.47 354.86L234.68 359.15L231.47 363.44L228.25 359.15ZM233.02 354.86L236.23 359.15L233.02 363.44L229.8 359.15ZM234.57 354.86L237.78 359.15L234.57 363.44L231.35 359.15ZM236.11 354.86L239.33 359.15L236.11 363.44L232.9 359.15ZM237.66 354.86L240.88 359.15L237.66 363.44L234.45 359.15ZM239.21 354.86L242.43 359.15L239.21 363.44L236 359.15ZM240.76 354.86L243.98 359.15L240.76 363.44L237.55 359.15ZM242.31 354.86L245.53 359.15L242.31 363.44L239.1 359.15ZM243.86 354.86L247.08 359.15L243.86 363.44L240.65 359.15ZM245.41 354.86L248.63 359.15L245.41 363.44L242.2 359.15ZM246.96 354.86L250.18 359.15L246.96 363.44L243.75 359.15ZM248.51 354.86L251.73 359.15L248.51 363.44L245.3 359.15ZM250.06 354.86L253.27 359.15L250.06 363.44L246.85 359.15ZM251.61 354.86L254.82 359.15L251.61 363.44L248.4 359.15ZM253.16 121.81L256.37 126.1L253.16 130.38L249.95 126.1ZM254.71 354.86L257.92 359.15L254.71 363.44L251.5 359.15ZM256.26 354.86L259.47 359.15L256.26 363.44L253.05 359.15ZM257.81 354.86L261.02 359.15L257.81 363.44L254.6 359.15ZM259.36 354.86L262.57 359.15L259.36 363.44L256.15 359.15ZM260.91 354.86L264.12 359.15L260.91 363.44L257.69 359.15ZM262.46 354.86L265.67 359.15L262.46 363.44L259.24 359.15ZM264.01 354.86L267.22 359.15L264.01 363.44L260.79 359.15ZM265.56 354.86L268.77 359.15L265.56 363.44L262.34 359.15ZM267.11 354.86L270.32 359.15L267.11 363.44L263.89 359.15ZM268.66 354.86L271.87 359.15L268.66 363.44L265.44 359.15ZM270.21 354.86L273.42 359.15L270.21 363.44L266.99 359.15ZM271.76 354.86L274.97 359.15L271.76 363.44L268.54 359.15ZM273.31 354.86L276.52 359.15L273.31 363.44L270.09 359.15ZM274.85 354.86L278.07 359.15L274.85 363.44L271.64 359.15ZM276.4 354.86L279.62 359.15L276.4 363.44L273.19 359.15ZM277.95 354.86L281.17 359.15L277.95 363.44L274.74 359.15ZM279.5 354.86L282.72 359.15L279.5 363.44L276.29 359.15ZM281.05 354.86L284.27 359.15L281.05 363.44L277.84 359.15ZM282.6 354.86L285.82 359.15L282.6 363.44L279.39 359.15ZM284.15 354.86L287.37 359.15L284.15 363.44L280.94 359.15ZM285.7 354.86L288.92 359.15L285.7 363.44L282.49 359.15ZM287.25 354.86L290.47 359.15L287.25 363.44L284.04 359.15ZM288.8 354.86L292.01 359.15L288.8 363.44L285.59 359.15ZM290.35 354.86L293.56 359.15L290.35 363.44L287.14 359.15ZM291.9 354.86L295.11 359.15L291.9 363.44L288.69 359.15ZM293.45 354.86L296.66 359.15L293.45 363.44L290.24 359.15ZM295 354.86L298.21 359.15L295 363.44L291.79 359.15ZM296.55 354.86L299.76 359.15L296.55 363.44L293.34 359.15ZM298.1 354.86L301.31 359.15L298.1 363.44L294.89 359.15ZM299.65 354.86L302.86 359.15L299.65 363.44L296.43 359.15ZM301.2 354.86L304.41 359.15L301.2 363.44L297.98 359.15ZM302.75 354.86L305.96 359.15L302.75 363.44L299.53 359.15ZM304.3 354.86L307.51 359.15L304.3 363.44L301.08 359.15ZM305.85 354.86L309.06 359.15L305.85 363.44L302.63 359.15ZM307.4 354.86L310.61 359.15L307.4 363.44L304.18 359.15ZM308.95 354.86L312.16 359.15L308.95 363.44L305.73 359.15ZM310.5 354.86L313.71 359.15L310.5 363.44L307.28 359.15ZM312.05 354.86L315.26 359.15L312.05 363.44L308.83 359.15ZM313.59 354.86L316.81 359.15L313.59 363.44L310.38 359.15ZM315.14 354.86L318.36 359.15L315.14 363.44L311.93 359.15ZM316.69 354.86L319.91 359.15L316.69 363.44L313.48 359.15ZM318.24 354.86L321.46 359.15L318.24 363.44L315.03 359.15ZM319.79 354.86L323.01 359.15L319.79 363.44L316.58 359.15ZM321.34 354.86L324.56 359.15L321.34 363.44L318.13 359.15ZM322.89 354.86L326.11 359.15L322.89 363.44L319.68 359.15ZM324.44 354.86L327.66 359.15L324.44 363.44L321.23 359.15ZM325.99 354.86L329.21 359.15L325.99 363.44L322.78 359.15ZM327.54 354.86L330.75 359.15L327.54 363.44L324.33 359.15ZM329.09 121.81L332.3 126.1L329.09 130.38L325.88 126.1ZM330.64 354.86L333.85 359.15L330.64 363.44L327.43 359.15ZM332.19 354.86L335.4 359.15L332.19 363.44L328.98 359.15ZM333.74 354.86L336.95 359.15L333.74 363.44L330.53 359.15ZM335.29 354.86L338.5 359.15L335.29 363.44L332.08 359.15ZM336.84 354.86L340.05 359.15L336.84 363.44L333.63 359.15ZM338.39 354.86L341.6 359.15L338.39 363.44L335.17 359.15ZM339.94 354.86L343.15 359.15L339.94 363.44L336.72 359.15ZM341.49 354.86L344.7 359.15L341.49 363.44L338.27 359.15ZM343.04 354.86L346.25 359.15L343.04 363.44L339.82 359.15ZM344.59 354.86L347.8 359.15L344.59 363.44L341.37 359.15ZM346.14 354.86L349.35 359.15L346.14 363.44L342.92 359.15ZM347.69 354.86L350.9 359.15L347.69 363.44L344.47 359.15ZM349.24 354.86L352.45 359.15L349.24 363.44L346.02 359.15ZM350.79 354.86L354 359.15L350.79 363.44L347.57 359.15ZM352.33 354.86L355.55 359.15L352.33 363.44L349.12 359.15ZM353.88 354.86L357.1 359.15L353.88 363.44L350.67 359.15ZM355.43 354.86L358.65 359.15L355.43 363.44L352.22 359.15ZM356.98 354.86L360.2 359.15L356.98 363.44L353.77 359.15ZM358.53 354.86L361.75 359.15L358.53 363.44L355.32 359.15ZM360.08 354.86L363.3 359.15L360.08 363.44L356.87 359.15ZM361.63 354.86L364.85 359.15L361.63 363.44L358.42 359.15ZM363.18 354.86L366.4 359.15L363.18 363.44L359.97 359.15ZM364.73 354.86L367.95 359.15L364.73 363.44L361.52 359.15ZM366.28 354.86L369.49 359.15L366.28 363.44L363.07 359.15ZM367.83 354.86L371.04 359.15L367.83 363.44L364.62 359.15ZM369.38 354.86L372.59 359.15L369.38 363.44L366.17 359.15ZM370.93 354.86L374.14 359.15L370.93 363.44L367.72 359.15ZM372.48 354.86L375.69 359.15L372.48 363.44L369.27 359.15ZM374.03 354.86L377.24 359.15L374.03 363.44L370.82 359.15ZM375.58 354.86L378.79 359.15L375.58 363.44L372.37 359.15ZM377.13 354.86L380.34 359.15L377.13 363.44L373.91 359.15ZM378.68 354.86L381.89 359.15L378.68 363.44L375.46 359.15ZM380.23 354.86L383.44 359.15L380.23 363.44L377.01 359.15ZM381.78 354.86L384.99 359.15L381.78 363.44L378.56 359.15ZM383.33 354.86L386.54 359.15L383.33 363.44L380.11 359.15ZM384.88 354.86L388.09 359.15L384.88 363.44L381.66 359.15ZM386.43 354.86L389.64 359.15L386.43 363.44L383.21 359.15ZM387.98 354.86L391.19 359.15L387.98 363.44L384.76 359.15ZM389.53 354.86L392.74 359.15L389.53 363.44L386.31 359.15ZM391.07 354.86L394.29 359.15L391.07 363.44L387.86 359.15ZM392.62 354.86L395.84 359.15L392.62 363.44L389.41 359.15ZM394.17 354.86L397.39 359.15L394.17 363.44L390.96 359.15ZM395.72 354.86L398.94 359.15L395.72 363.44L392.51 359.15ZM397.27 354.86L400.49 359.15L397.27 363.44L394.06 359.15ZM398.82 354.86L402.04 359.15L398.82 363.44L395.61 359.15ZM400.37 354.86L403.59 359.15L400.37 363.44L397.16 359.15ZM401.92 354.86L405.14 359.15L401.92 363.44L398.71 359.15ZM403.47 354.86L406.69 359.15L403.47 363.44L400.26 359.15ZM405.02 121.81L408.23 126.1L405.02 130.38L401.81 126.1ZM406.57 354.86L409.78 359.15L406.57 363.44L403.36 359.15ZM408.12 354.86L411.33 359.15L408.12 363.44L404.91 359.15ZM409.67 354.86L412.88 359.15L409.67 363.44L406.46 359.15ZM411.22 354.86L414.43 359.15L411.22 363.44L408.01 359.15ZM412.77 354.86L415.98 359.15L412.77 363.44L409.56 359.15ZM414.32 354.86L417.53 359.15L414.32 363.44L411.11 359.15ZM415.87 354.86L419.08 359.15L415.87 363.44L412.65 359.15ZM417.42 354.86L420.63 359.15L417.42 363.44L414.2 359.15ZM418.97 354.86L422.18 359.15L418.97 363.44L415.75 359.15ZM420.52 354.86L423.73 359.15L420.52 363.44L417.3 359.15ZM422.07 354.86L425.28 359.15L422.07 363.44L418.85 359.15ZM423.62 354.86L426.83 359.15L423.62 363.44L420.4 359.15ZM425.17 354.86L428.38 359.15L425.17 363.44L421.95 359.15ZM426.72 354.86L429.93 359.15L426.72 363.44L423.5 359.15ZM428.27 354.86L431.48 359.15L428.27 363.44L425.05 359.15ZM429.81 354.86L433.03 359.15L429.81 363.44L426.6 359.15ZM431.36 354.86L434.58 359.15L431.36 363.44L428.15 359.15ZM432.91 354.86L436.13 359.15L432.91 363.44L429.7 359.15ZM434.46 354.86L437.68 359.15L434.46 363.44L431.25 359.15ZM436.01 354.86L439.23 359.15L436.01 363.44L432.8 359.15ZM437.56 354.86L440.78 359.15L437.56 363.44L434.35 359.15ZM439.11 354.86L442.33 359.15L439.11 363.44L435.9 359.15ZM440.66 354.86L443.88 359.15L440.66 363.44L437.45 359.15ZM442.21 354.86L445.43 359.15L442.21 363.44L439 359.15ZM443.76 354.86L446.97 359.15L443.76 363.44L440.55 359.15ZM445.31 354.86L448.52 359.15L445.31 363.44L442.1 359.15ZM446.86 354.86L450.07 359.15L446.86 363.44L443.65 359.15ZM448.41 354.86L451.62 359.15L448.41 363.44L445.2 359.15ZM449.96 354.86L453.17 359.15L449.96 363.44L446.75 359.15ZM451.51 354.86L454.72 359.15L451.51 363.44L448.3 359.15ZM453.06 354.86L456.27 359.15L453.06 363.44L449.85 359.15ZM454.61 354.86L457.82 359.15L454.61 363.44L451.39 359.15ZM456.16 354.86L459.37 359.15L456.16 363.44L452.94 359.15ZM457.71 354.86L460.92 359.15L457.71 363.44L454.49 359.15ZM459.26 354.86L462.47 359.15L459.26 363.44L456.04 359.15ZM460.81 354.86L464.02 359.15L460.81 363.44L457.59 359.15ZM462.36 354.86L465.57 359.15L462.36 363.44L459.14 359.15ZM463.91 354.86L467.12 359.15L463.91 363.44L460.69 359.15ZM465.46 354.86L468.67 359.15L465.46 363.44L462.24 359.15ZM467.01 354.86L470.22 359.15L467.01 363.44L463.79 359.15ZM468.55 354.86L471.77 359.15L468.55 363.44L465.34 359.15ZM470.1 354.86L473.32 359.15L470.1 363.44L466.89 359.15ZM471.65 354.86L474.87 359.15L471.65 363.44L468.44 359.15ZM473.2 354.86L476.42 359.15L473.2 363.44L469.99 359.15ZM474.75 354.86L477.97 359.15L474.75 363.44L471.54 359.15ZM476.3 354.86L479.52 359.15L476.3 363.44L473.09 359.15ZM477.85 354.86L481.07 359.15L477.85 363.44L474.64 359.15ZM479.4 354.86L482.62 359.15L479.4 363.44L476.19 359.15ZM480.95 121.81L484.17 126.1L480.95 130.38L477.74 126.1ZM482.5 354.86L485.71 359.15L482.5 363.44L479.29 359.15ZM484.05 354.86L487.26 359.15L484.05 363.44L480.84 359.15ZM485.6 354.86L488.81 359.15L485.6 363.44L482.39 359.15ZM487.15 354.86L490.36 359.15L487.15 363.44L483.94 359.15ZM488.7 354.86L491.91 359.15L488.7 363.44L485.49 359.15ZM490.25 354.86L493.46 359.15L490.25 363.44L487.04 359.15ZM491.8 354.86L495.01 359.15L491.8 363.44L488.59 359.15ZM493.35 354.86L496.56 359.15L493.35 363.44L490.13 359.15ZM494.9 354.86L498.11 359.15L494.9 363.44L491.68 359.15ZM496.45 354.86L499.66 359.15L496.45 363.44L493.23 359.15ZM498 354.86L501.21 359.15L498 363.44L494.78 359.15ZM499.55 354.86L502.76 359.15L499.55 363.44L496.33 359.15ZM501.1 354.86L504.31 359.15L501.1 363.44L497.88 359.15ZM502.65 354.86L505.86 359.15L502.65 363.44L499.43 359.15ZM504.2 354.86L507.41 359.15L504.2 363.44L500.98 359.15ZM505.75 354.86L508.96 359.15L505.75 363.44L502.53 359.15ZM507.29 354.86L510.51 359.15L507.29 363.44L504.08 359.15ZM508.84 354.86L512.06 359.15L508.84 363.44L505.63 359.15ZM510.39 354.86L513.61 359.15L510.39 363.44L507.18 359.15ZM511.94 354.86L515.16 359.15L511.94 363.44L508.73 359.15ZM513.49 354.86L516.71 359.15L513.49 363.44L510.28 359.15ZM515.04 354.86L518.26 359.15L515.04 363.44L511.83 359.15ZM516.59 354.86L519.81 359.15L516.59 363.44L513.38 359.15ZM518.14 354.86L521.36 359.15L518.14 363.44L514.93 359.15ZM519.69 354.86L522.91 359.15L519.69 363.44L516.48 359.15ZM521.24 354.86L524.45 359.15L521.24 363.44L518.03 359.15ZM522.79 354.86L526 359.15L522.79 363.44L519.58 359.15ZM524.34 354.86L527.55 359.15L524.34 363.44L521.13 359.15ZM525.89 354.86L529.1 359.15L525.89 363.44L522.68 359.15ZM527.44 354.86L530.65 359.15L527.44 363.44L524.23 359.15ZM528.99 354.86L532.2 359.15L528.99 363.44L525.78 359.15ZM530.54 354.86L533.75 359.15L530.54 363.44L527.33 359.15ZM532.09 354.86L535.3 359.15L532.09 363.44L528.87 359.15ZM533.64 354.86L536.85 359.15L533.64 363.44L530.42 359.15ZM535.19 354.86L538.4 359.15L535.19 363.44L531.97 359.15ZM536.74 354.86L539.95 359.15L536.74 363.44L533.52 359.15ZM538.29 354.86L541.5 359.15L538.29 363.44L535.07 359.15ZM539.84 354.86L543.05 359.15L539.84 363.44L536.62 359.15ZM541.39 354.86L544.6 359.15L541.39 363.44L538.17 359.15ZM542.94 354.86L546.15 359.15L542.94 363.44L539.72 359.15ZM544.49 354.86L547.7 359.15L544.49 363.44L541.27 359.15ZM546.03 354.86L549.25 359.15L546.03 363.44L542.82 359.15ZM547.58 354.86L550.8 359.15L547.58 363.44L544.37 359.15ZM549.13 354.86L552.35 359.15L549.13 363.44L545.92 359.15ZM550.68 354.86L553.9 359.15L550.68 363.44L547.47 359.15ZM552.23 354.86L555.45 359.15L552.23 363.44L549.02 359.15ZM553.78 354.86L557 359.15L553.78 363.44L550.57 359.15ZM555.33 354.86L558.55 359.15L555.33 363.44L552.12 359.15ZM556.88 121.81L560.1 126.1L556.88 130.38L553.67 126.1ZM558.43 354.86L561.65 359.15L558.43 363.44L555.22 359.15ZM559.98 354.86L563.19 359.15L559.98 363.44L556.77 359.15ZM561.53 354.86L564.74 359.15L561.53 363.44L558.32 359.15ZM563.08 354.86L566.29 359.15L563.08 363.44L559.87 359.15ZM564.63 354.86L567.84 359.15L564.63 363.44L561.42 359.15ZM566.18 354.86L569.39 359.15L566.18 363.44L562.97 359.15ZM567.73 354.86L570.94 359.15L567.73 363.44L564.52 359.15ZM569.28 354.86L572.49 359.15L569.28 363.44L566.07 359.15ZM570.83 354.86L574.04 359.15L570.83 363.44L567.61 359.15ZM572.38 354.86L575.59 359.15L572.38 363.44L569.16 359.15ZM573.93 354.86L577.14 359.15L573.93 363.44L570.71 359.15ZM575.48 354.86L578.69 359.15L575.48 363.44L572.26 359.15ZM577.03 354.86L580.24 359.15L577.03 363.44L573.81 359.15ZM578.58 354.86L581.79 359.15L578.58 363.44L575.36 359.15ZM580.13 354.86L583.34 359.15L580.13 363.44L576.91 359.15ZM581.68 354.86L584.89 359.15L581.68 363.44L578.46 359.15ZM583.23 354.86L586.44 359.15L583.23 363.44L580.01 359.15ZM584.77 354.86L587.99 359.15L584.77 363.44L581.56 359.15ZM586.32 354.86L589.54 359.15L586.32 363.44L583.11 359.15ZM587.87 354.86L591.09 359.15L587.87 363.44L584.66 359.15ZM589.42 354.86L592.64 359.15L589.42 363.44L586.21 359.15ZM590.97 354.86L594.19 359.15L590.97 363.44L587.76 359.15ZM592.52 354.86L595.74 359.15L592.52 363.44L589.31 359.15ZM594.07 354.86L597.29 359.15L594.07 363.44L590.86 359.15ZM595.62 354.86L598.84 359.15L595.62 363.44L592.41 359.15ZM597.17 354.86L600.39 359.15L597.17 363.44L593.96 359.15ZM598.72 354.86L601.93 359.15L598.72 363.44L595.51 359.15ZM600.27 354.86L603.48 359.15L600.27 363.44L597.06 359.15ZM601.82 354.86L605.03 359.15L601.82 363.44L598.61 359.15ZM603.37 354.86L606.58 359.15L603.37 363.44L600.16 359.15ZM604.92 354.86L608.13 359.15L604.92 363.44L601.71 359.15ZM606.47 354.86L609.68 359.15L606.47 363.44L603.26 359.15ZM608.02 354.86L611.23 359.15L608.02 363.44L604.81 359.15ZM609.57 354.86L612.78 359.15L609.57 363.44L606.35 359.15ZM611.12 354.86L614.33 359.15L611.12 363.44L607.9 359.15ZM612.67 354.86L615.88 359.15L612.67 363.44L609.45 359.15ZM614.22 354.86L617.43 359.15L614.22 363.44L611 359.15ZM615.77 354.86L618.98 359.15L615.77 363.44L612.55 359.15ZM617.32 354.86L620.53 359.15L617.32 363.44L614.1 359.15ZM618.87 354.86L622.08 359.15L618.87 363.44L615.65 359.15ZM620.42 354.86L623.63 359.15L620.42 363.44L617.2 359.15ZM621.97 354.86L625.18 359.15L621.97 363.44L618.75 359.15ZM623.51 354.86L626.73 359.15L623.51 363.44L620.3 359.15ZM625.06 354.86L628.28 359.15L625.06 363.44L621.85 359.15ZM626.61 354.86L629.83 359.15L626.61 363.44L623.4 359.15ZM628.16 354.86L631.38 359.15L628.16 363.44L624.95 359.15ZM629.71 354.86L632.93 359.15L629.71 363.44L626.5 359.15ZM631.26 354.86L634.48 359.15L631.26 363.44L628.05 359.15Z" fill="#edb120" stroke="#edb120" stroke-width="2.05" stroke-miterlimit="10"/>
<path d="M48.5 0V392.4" stroke="#000" stroke-width="0.85" fill="none"/>
<path d="M684.3 0V392.4" stroke="#000" stroke-width="1.1" fill="none"/>
<path d="M47.9 0.3H685" stroke="#000" stroke-width="1.2" fill="none"/>
<path d="M47.9 391.95H685" stroke="#000" stroke-width="1.1" fill="none"/>
<rect x="67.9" y="12.4" width="147.5" height="88.2" fill="#fff" stroke="#333" stroke-width="1"/>
<path d="M75 30.1H111.9" stroke="#0072bd" stroke-width="2.05"/>
<circle cx="93.45" cy="30.1" r="5.31" fill="#0072bd"/>
<path d="M75 56.6H111.9" stroke="#d95319" stroke-width="2.05"/>
<path d="M93.45 52.31L89.74 58.74L97.16 58.74Z" fill="#d95319" stroke="#d95319" stroke-width="2.05"/>
<path d="M75 83.3H111.9" stroke="#edb120" stroke-width="2.05"/>
<path d="M93.45 79.02L96.66 83.3L93.45 87.58L90.24 83.3Z" fill="#edb120" stroke="#edb120" stroke-width="2.05"/>
<g font-family="Liberation Serif, serif" fill="#000" stroke="#fff" stroke-width="0.15"><text transform="translate(161.1 35.9) scale(0.94 1)" text-anchor="middle" font-size="23.6">Solid</text><text transform="translate(161.1 62.8) scale(0.97 1)" text-anchor="middle" font-size="23.6">Fluid</text><text transform="translate(160.9 88.9) scale(0.97 1)" text-anchor="middle" font-size="23.6">Thermics</text><text transform="translate(99.75 413.8) scale(0.905 1)" text-anchor="middle" font-size="24">0</text><text transform="translate(177.23 413.8) scale(0.905 1)" text-anchor="middle" font-size="24">50</text><text transform="translate(254.71 413.8) scale(0.905 1)" text-anchor="middle" font-size="24">100</text><text transform="translate(332.19 413.8) scale(0.905 1)" text-anchor="middle" font-size="24">150</text><text transform="translate(409.67 413.8) scale(0.905 1)" text-anchor="middle" font-size="24">200</text><text transform="translate(487.15 413.8) scale(0.905 1)" text-anchor="middle" font-size="24">250</text><text transform="translate(564.63 413.8) scale(0.905 1)" text-anchor="middle" font-size="24">300</text><text transform="translate(642.11 413.8) scale(0.905 1)" text-anchor="middle" font-size="24">350</text><text transform="translate(40.6 367.15) scale(0.905 1)" text-anchor="end" font-size="24">0</text><text transform="translate(40.6 273.93) scale(0.905 1)" text-anchor="end" font-size="24">2</text><text transform="translate(40.6 180.71) scale(0.905 1)" text-anchor="end" font-size="24">4</text><text transform="translate(40.6 87.49) scale(0.905 1)" text-anchor="end" font-size="24">6</text><text transform="translate(365.65 442.8) scale(0.99 1)" text-anchor="middle" font-size="23.7">Computation number</text><text transform="translate(16 196) rotate(-90) scale(0.963 1)" text-anchor="middle" font-size="23.6">Added modes</text></g>
</svg>
</body></html>
